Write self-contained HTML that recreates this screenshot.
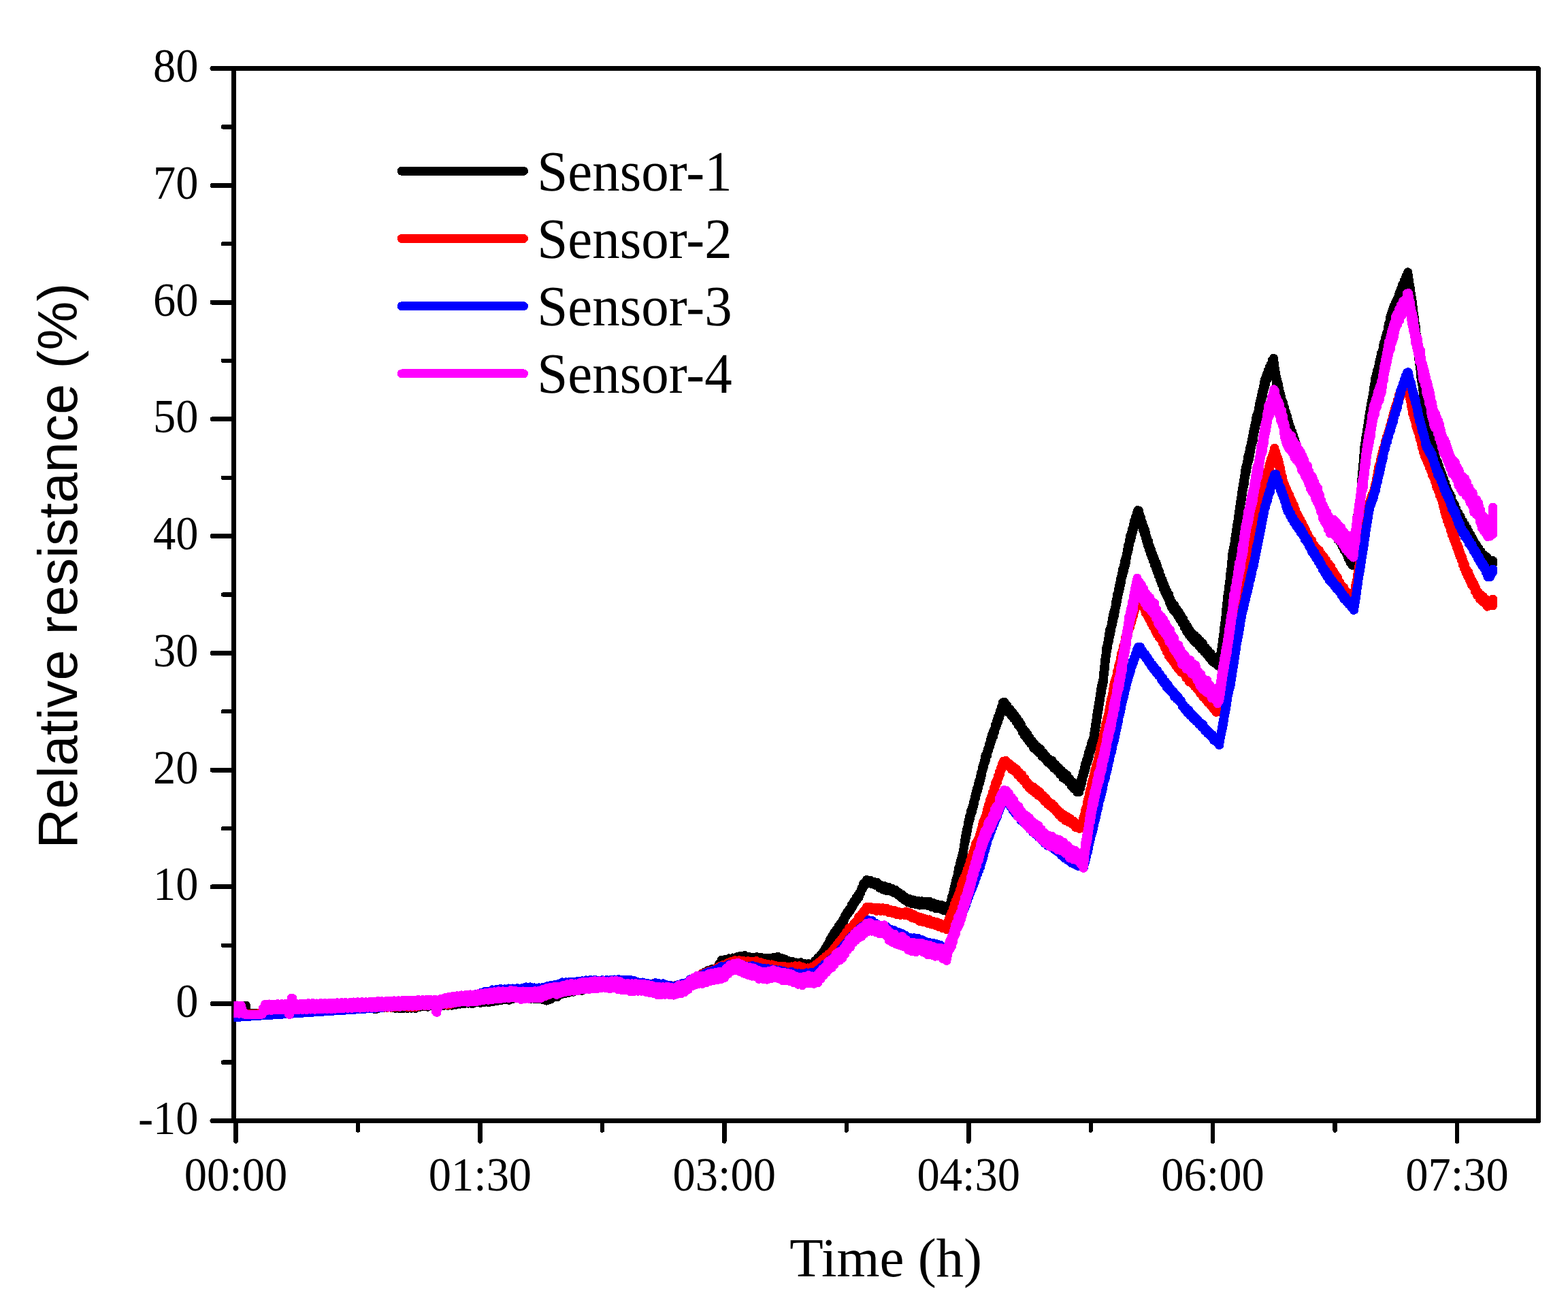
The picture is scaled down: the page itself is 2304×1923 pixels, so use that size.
<!DOCTYPE html>
<html lang="en"><head><meta charset="utf-8"><title>Relative resistance vs time</title>
<style>
html,body{margin:0;padding:0;background:#fff}
svg{display:block}
.s{font-family:"Liberation Serif","Times New Roman",serif;fill:#000}
.a{font-family:"Liberation Sans",Arial,sans-serif;fill:#000}
.c{fill:none;stroke-width:13;stroke-linecap:round;stroke-linejoin:round}
.k{stroke:#000;stroke-linecap:round;fill:none}
</style></head>
<body>
<svg width="2304" height="1923" viewBox="0 0 2304 1923" shape-rendering="crispEdges">
<rect width="2304" height="1923" fill="#fff"/>
<defs><clipPath id="cp"><rect x="343.5" y="100.5" width="1917.0" height="1546.0"/></clipPath></defs>
<rect x="343.5" y="100.5" width="1917.0" height="1546.0" fill="none" stroke="#000" stroke-width="7" stroke-linejoin="round"/>
<g class="k" stroke-width="7"><path d="M312 100.5H340"/><path d="M312 272.3H340"/><path d="M312 444.1H340"/><path d="M312 615.8H340"/><path d="M312 787.6H340"/><path d="M312 959.4H340"/><path d="M312 1131.2H340"/><path d="M312 1302.9H340"/><path d="M312 1474.7H340"/><path d="M312 1646.5H340"/></g>
<g class="k" stroke-width="6.3"><path d="M327.8 186.4H340"/><path d="M327.8 358.2H340"/><path d="M327.8 529.9H340"/><path d="M327.8 701.7H340"/><path d="M327.8 873.5H340"/><path d="M327.8 1045.3H340"/><path d="M327.8 1217.1H340"/><path d="M327.8 1388.8H340"/><path d="M327.8 1560.6H340"/></g>
<g class="k" stroke-width="6.6"><path d="M346.5 1650V1676.6"/><path d="M705.4 1650V1676.6"/><path d="M1064.3 1650V1676.6"/><path d="M1423.2 1650V1676.6"/><path d="M1782.1 1650V1676.6"/><path d="M2141.0 1650V1676.6"/></g>
<g class="k" stroke-width="6.3"><path d="M526.0 1650V1660.6"/><path d="M884.9 1650V1660.6"/><path d="M1243.8 1650V1660.6"/><path d="M1602.7 1650V1660.6"/><path d="M1961.6 1650V1660.6"/></g>
<g clip-path="url(#cp)" class="c">
<path stroke="#000" d="M336 1477L339.2 1477L342.4 1477L345.6 1477L348.8 1477L351.9 1477L355.1 1477L358.3 1477L361.5 1477L361.8 1480L362 1483L362.2 1486L362.5 1489L365.5 1488.8L368.6 1488.7L371.6 1488.5L374.6 1488.4L377.6 1488.2L380.7 1488L383.7 1488.2L386.7 1487.4L389.7 1488.1L392.8 1486.8L395.8 1488.6L398.8 1486.8L401.8 1488.4L404.9 1486.1L407.9 1489.6L410.9 1485.3L413.9 1489.3L417 1484.3L420 1489.6L423 1483.9L426 1487.3L428.9 1483.5L431.9 1488L434.9 1482.5L437.9 1486.5L440.9 1481.1L443.8 1485.2L446.8 1481.6L449.8 1486.1L452.8 1480.8L455.7 1486.3L458.7 1480.6L461.7 1484.8L464.7 1481L467.7 1485L470.6 1479.7L473.6 1484L476.6 1479.3L479.6 1485L482.6 1480.4L485.5 1484.3L488.5 1480.5L491.5 1484.6L494.5 1480.3L497.4 1484.5L500.4 1480.4L503.4 1484.6L506.4 1478.9L509.4 1483.3L512.3 1478L515.3 1483L518.3 1477.8L521.3 1481.6L524.3 1477.3L527.2 1482.3L530.2 1478.8L533.2 1482.2L536.2 1477.7L539.1 1481.5L542.1 1477.4L545.1 1481.8L548.1 1478L551.1 1483L554 1477.6L557 1481.2L560 1476.7L563 1480.6L565.9 1475.9L568.9 1480.5L571.9 1474.9L574.8 1480.3L577.8 1476L580.7 1481.4L583.7 1476.1L586.7 1481.7L589.6 1476.4L592.6 1481.7L595.6 1477.1L598.5 1481.5L601.5 1475.6L604.4 1481.3L607.4 1476.7L610.4 1481.5L613.3 1476.2L616.3 1479.8L619.3 1473.9L622.2 1478.4L625.2 1474.3L628.1 1479.2L631.1 1473.9L634.1 1477.9L637 1472.7L640 1478.1L643 1473L646 1477.3L649 1471.9L652 1477.2L655 1473.1L658 1477.5L661 1471.8L664 1477.1L667 1472.3L670 1476.2L673 1471.4L676 1475.1L679 1470.6L682 1474.7L685 1470.9L688 1474.1L691 1470.4L694 1475L697 1469.5L700 1472.9L703 1468.4L706 1473.3L709 1467.8L712 1472.3L715 1467.6L718 1472.8L721 1468.1L724 1471.9L727 1466L730 1470.6L733 1465.4L736 1469.9L739 1464.8L742 1468.8L745 1464.5L748 1469.3L751 1463.1L754 1467.5L757 1461.7L760 1466.7L763 1462.2L766 1466.2L769.2 1462L772.3 1467.2L775.5 1461.7L778.7 1467.8L781.8 1463L785 1467.6L788 1464L791 1467.9L794 1463.7L797 1468.6L800 1465.4L803 1470.1L806 1464.7L809 1468.2L811.5 1461.7L814 1465.2L816.7 1460.3L819.4 1464.5L822.1 1458.1L824.9 1461.1L827.6 1455.6L830.3 1459.8L833 1453.6L836.1 1458.4L839.3 1452.1L842.4 1457.2L845.6 1452L848.7 1455.8L851.9 1450.8L855 1455.5L857.8 1449.4L860.5 1453.3L863.2 1448.3L866 1451.8L868.8 1447L871.5 1450.2L874.2 1443.9L877 1448.5L880.1 1443.8L883.2 1447.8L886.3 1444.3L889.4 1449.3L892.5 1444.2L895.5 1449.2L898.6 1444.3L901.7 1448.4L904.8 1443.1L907.9 1447.4L911 1443.4L913.9 1448.2L916.8 1444.3L919.7 1448.7L922.6 1444.8L925.5 1450.7L928.4 1447.3L931.3 1452.6L934.2 1449L937.1 1453.3L940 1447.8L942.9 1453.4L945.9 1448.2L948.8 1452.3L951.8 1448.8L954.7 1453.9L957.6 1449.1L960.6 1452.6L963.5 1448.5L966.5 1454.3L969.4 1449.7L972.4 1454.5L975.3 1449.2L978.2 1452.8L981.2 1448.7L984.1 1453.6L987.1 1448.7L990 1454.4L993 1449.8L996 1452.6L999 1446.8L1002 1450.3L1005 1445L1008 1448.9L1010.4 1443.3L1012.9 1445.8L1015.3 1440.3L1017.7 1442.6L1020.1 1436.9L1022.6 1440.9L1025 1434.9L1027.4 1438.3L1030 1431.9L1032.6 1435.7L1035.2 1428.2L1037.7 1431.6L1040.3 1425.5L1042.9 1429L1046.3 1423.5L1049.6 1427.7L1053 1422.7L1054.8 1424.1L1056.5 1415.8L1058.2 1418.3L1060 1410.4L1062.8 1414.4L1065.7 1409.1L1068.5 1412.6L1071.3 1407.9L1074.2 1411.8L1077 1407L1079.9 1411.3L1082.8 1405.6L1085.6 1408.8L1088.5 1404.1L1091.4 1408.1L1094.3 1403.4L1097.1 1409.1L1100 1405.3L1102.9 1410.2L1105.9 1406.3L1108.9 1410.6L1111.9 1405.7L1114.9 1410.3L1118 1406.2L1121.1 1411.8L1124.1 1407.2L1127.2 1411.4L1130.3 1407.2L1133.4 1411.4L1136.5 1406.5L1139.5 1410.3L1142.6 1405.2L1145.7 1410.1L1148.3 1407.3L1150.8 1414L1153.4 1409L1156 1414.6L1158.9 1411.5L1161.9 1416.5L1164.8 1412.4L1167.8 1418.4L1170.7 1414L1173.7 1418.8L1176.6 1413.7L1179.4 1418.9L1182.2 1415.1L1185 1420.5L1187.9 1415.8L1190.8 1420.7L1193.7 1416.5L1195.7 1419.3L1197.7 1411.3L1199.6 1414.5L1201.6 1407.2L1203.6 1410L1205.5 1403.1L1207.5 1406L1209.5 1398.3L1211.1 1401.5L1212.7 1392.8L1214.3 1394.1L1215.9 1387.2L1217.6 1389.1L1219.2 1380.7L1220.8 1383.2L1222.4 1375.5L1224 1377.1L1225.6 1370.3L1227.2 1371.8L1228.8 1365.4L1230.4 1368.3L1232 1360.9L1233.5 1363.8L1235.1 1356.4L1236.7 1358.5L1238.3 1351.3L1239.9 1353.6L1241.5 1344.9L1243.1 1346.5L1244.8 1339.4L1246.4 1342.4L1248 1335.7L1249.7 1337.5L1251.3 1329L1253 1332.2L1254.6 1324.2L1256.2 1326.6L1257.9 1318.8L1259.5 1322L1260.8 1314.8L1262.1 1318.2L1263.4 1310.7L1264.6 1312.2L1265.9 1304.9L1267.2 1306.5L1268.5 1298L1270.8 1300.7L1273.2 1292.5L1275.5 1296.5L1278.3 1293L1281 1298.7L1283.8 1295.3L1286.5 1300.6L1289.3 1296.4L1292 1304.2L1294.8 1300.6L1297.6 1307.1L1300.3 1301.6L1303.1 1308.8L1305.8 1303.1L1308.6 1309.2L1311.1 1305.4L1313.7 1311.9L1316.2 1307.5L1318.7 1314.5L1321.3 1311.4L1323.8 1318.5L1326.3 1314.5L1328.9 1322.5L1331.4 1318.5L1334.3 1325.8L1337.1 1320.6L1340 1328L1342.8 1322L1345.7 1328.9L1348.6 1323.1L1351.4 1330L1354.3 1323.8L1357.3 1329.8L1360.2 1324L1363.2 1330.3L1366.2 1324.5L1369.1 1332.6L1372.1 1326.8L1375 1334.7L1378 1328.7L1380.8 1335.1L1383.5 1329.4L1386.2 1337.3L1389 1331.6L1391.8 1338.6L1394.5 1332.9L1395.2 1337.6L1395.9 1327.7L1396.7 1332.6L1397.4 1323.2L1398.1 1326.9L1398.8 1316.4L1399.5 1321L1400.2 1311.8L1401 1315.2L1401.7 1306.1L1402.4 1308.4L1403.1 1298.8L1403.8 1303.3L1404.6 1293.3L1405.3 1296.3L1406 1288.1L1406.7 1292.4L1407.4 1282.1L1408.1 1285.2L1408.9 1274.4L1409.6 1279.5L1410.3 1269.2L1410.9 1273.2L1411.5 1264L1412.1 1268.9L1412.7 1260.2L1413.3 1264.1L1413.9 1255.6L1414.5 1259.2L1415.1 1249.5L1415.7 1252.2L1416.3 1241.9L1416.9 1244.2L1417.4 1234.6L1418 1238.2L1418.6 1227.7L1419.2 1231.7L1419.8 1222.7L1420.4 1225.4L1421 1216.6L1421.6 1220.4L1422.2 1209.5L1422.8 1214.2L1423.4 1205.2L1424 1208.5L1424.8 1198.6L1425.5 1202.2L1426.3 1192.2L1427.1 1196.5L1427.9 1188L1428.6 1192.2L1429.4 1183.4L1430.2 1185.7L1431 1176.5L1431.7 1179.5L1432.5 1170.6L1433.3 1173.2L1434.1 1163.1L1434.8 1166.4L1435.6 1158.1L1436.4 1162.1L1437.2 1152.6L1437.9 1156.2L1438.7 1146.6L1439.5 1150.1L1440.3 1141.2L1441 1145.5L1441.8 1134.4L1442.6 1138L1443.4 1127.3L1444.1 1131.5L1444.9 1122.4L1445.7 1125.8L1446.5 1116.9L1447.2 1120.5L1448 1109.7L1448.9 1115.2L1449.8 1105.8L1450.7 1109.5L1451.6 1100L1452.5 1102.8L1453.4 1093.4L1454.3 1097.5L1455.3 1087.3L1456.2 1091L1457.1 1080.1L1458 1085L1458.9 1075.7L1459.8 1081.3L1460.7 1071.9L1461.6 1075.4L1462.5 1064.7L1463.4 1068.7L1464.3 1060L1465.2 1064L1466.1 1053.5L1467 1059.1L1468 1049.5L1468.9 1054.1L1469.8 1043.6L1470.7 1048.4L1471.6 1037.8L1472.5 1041.2L1473.4 1031.8L1474.3 1035.9L1476.2 1031.4L1478.1 1040.8L1480 1036.6L1481.9 1046.9L1483.8 1041.5L1485.7 1051.1L1487.6 1046.2L1489.5 1055.8L1491.4 1050.8L1492.9 1060.3L1494.5 1055.2L1496 1065.1L1497.5 1059.7L1499 1069L1500.6 1064.6L1502.1 1075.2L1503.6 1070.8L1505.1 1080.3L1506.7 1074.5L1508.2 1084.4L1509.7 1078.2L1511.2 1088.3L1512.8 1083.2L1514.3 1092.4L1516.4 1088.3L1518.4 1099L1520.5 1093L1522.6 1102.5L1524.6 1096.9L1526.7 1106.3L1528.7 1100L1530.8 1111L1532.9 1105.4L1534.9 1114.7L1537 1110.4L1539.3 1120.1L1541.6 1115L1543.9 1123.7L1546.2 1117.3L1548.5 1128.8L1550.8 1122.8L1553.1 1132.3L1555.4 1127.4L1557.7 1137.8L1560 1132L1562 1143L1564 1135.8L1566 1145.4L1568 1138.5L1570 1149L1572 1144L1574 1154.6L1576 1148.9L1578.2 1159.2L1580.5 1153.1L1582.8 1163.8L1585 1157.6L1585.8 1163.3L1586.7 1151.5L1587.5 1157.9L1588.3 1146.1L1589.1 1152.4L1590 1140.4L1590.8 1145.1L1591.6 1133.6L1592.4 1138.8L1593.3 1128.4L1594.1 1133.2L1594.9 1121.1L1595.8 1127L1596.6 1115.6L1597.4 1120.7L1598.2 1110.9L1599.1 1116.2L1599.9 1104.2L1600.7 1109.8L1601.5 1098.9L1602.4 1104.2L1603.2 1093.6L1604 1099.3L1604.8 1088.2L1605.7 1094.5L1606.5 1084L1607 1089L1607.5 1077.2L1608 1083.5L1608.5 1071L1609 1075.7L1609.5 1064.5L1610 1070L1610.5 1058.3L1611 1063L1611.5 1050.7L1612 1056.2L1612.5 1044.2L1613 1049.4L1613.5 1038.3L1614 1044.6L1614.5 1032.8L1615 1037.2L1615.5 1026.5L1616 1031.8L1616.5 1019.4L1617 1024.6L1617.5 1012.9L1618 1020L1618.5 1007.7L1619 1013.1L1619.5 1003.7L1620 1009.3L1620.5 999.2L1621 1004.5L1621.3 991.8L1621.7 998L1622 986.5L1622.3 991.4L1622.7 978.7L1623 985.6L1623.3 973.4L1623.7 978.9L1624 967.2L1624.3 972.7L1624.7 962.4L1625 966.8L1625.3 956.1L1625.7 961.1L1626 950.2L1626.6 956.8L1627.2 944.6L1627.8 950.3L1628.5 937.9L1629.1 942.8L1629.7 930.8L1630.3 935.8L1630.9 924.1L1631.5 931.4L1632.1 920.9L1632.7 925.8L1633.4 915.1L1634 919.7L1634.6 907.9L1635.2 913.6L1635.8 902.6L1636.4 907.6L1637 897.5L1637.6 903.8L1638.3 893.2L1638.9 897.8L1639.5 884.8L1640.1 890.6L1640.7 879.2L1641.3 884.2L1641.9 872L1642.5 877.6L1643.2 866.1L1643.8 871.8L1644.4 861.2L1645 867.6L1645.7 855.1L1646.3 860.4L1647 848.5L1647.7 855L1648.4 843.1L1649 847.9L1649.7 835.4L1650.4 842L1651.1 831.5L1651.7 837.9L1652.4 825L1653.1 831.8L1653.8 820.7L1654.4 826.3L1655.1 814.5L1655.8 819.1L1656.5 807L1657.1 812.2L1657.8 800.5L1658.5 805.9L1659.2 793.9L1659.8 799.4L1660.5 787L1661.3 794.1L1662.1 783.4L1662.9 789L1663.7 776.5L1664.5 781.8L1665.3 770.7L1666.1 776.5L1666.9 764.3L1667.7 771.7L1668.5 759.5L1669.3 765.3L1670.1 753.8L1670.9 760.3L1671.7 749.6L1672.5 756.4L1673.4 750L1674.3 761.6L1675.1 756.3L1676 768.6L1676.9 761.7L1677.8 773L1678.7 768.3L1679.5 778.9L1680.4 773.5L1681.3 783.9L1682.2 777.7L1683.1 789.6L1683.9 783.4L1684.8 795.9L1685.7 790.7L1686.7 802.3L1687.6 795.1L1688.6 807.9L1689.5 802.3L1690.5 813.6L1691.4 807.1L1692.4 818.7L1693.3 813.1L1694.3 824.2L1695.3 817.9L1696.2 829.6L1697.2 822.8L1698.1 834L1699.1 826.9L1700 840L1701 832.8L1702.2 845.9L1703.4 839.3L1704.5 852.1L1705.7 846.4L1706.9 858.5L1708.1 851.4L1709.2 864.6L1710.4 857.9L1711.6 870.2L1712.8 863.9L1713.9 874.8L1715.1 868.8L1716.3 879.3L1717.5 872.9L1718.6 886.1L1719.8 880.1L1721 892L1722.6 885.7L1724.2 896.6L1725.8 888.9L1727.4 900.1L1729.1 894.7L1730.7 905.5L1732.3 899.1L1733.9 910.5L1735.5 904.3L1737.1 915.7L1738.7 909.1L1740.3 922.2L1741.9 915.7L1743.6 927.9L1745.2 920.4L1746.8 932.8L1748.4 926.1L1750 936.7L1751.9 930.2L1753.9 941.6L1755.8 933.8L1757.7 944.9L1759.6 937.1L1761.6 949.5L1763.5 941.6L1765.4 953.7L1767.4 945.2L1769.3 957.3L1771.2 951.2L1773.1 961.9L1775.1 955.1L1777 966.9L1779.1 959.7L1781.3 971.8L1783.4 964.8L1785.6 974.6L1787.7 966.8L1789.9 978.2L1792 970.2L1792.4 975.7L1792.8 965.3L1793.2 972.1L1793.6 959.9L1794 966.8L1794.3 954.6L1794.7 962.3L1795.1 950.9L1795.5 957.4L1795.9 946L1796.3 951.8L1796.7 938.8L1797.1 945.7L1797.5 932L1797.9 938L1798.3 926.6L1798.7 931.7L1799 920L1799.4 926.9L1799.8 914.7L1800.2 919.6L1800.6 906.9L1801 912.3L1801.3 899.7L1801.6 906.9L1802 893.1L1802.3 900.1L1802.6 886.2L1802.9 893.8L1803.3 880.6L1803.6 887.8L1803.9 875L1804.2 883.1L1804.5 870.1L1804.9 877.8L1805.2 865.9L1805.5 872.5L1805.8 860L1806.2 867.9L1806.5 854.9L1806.8 860.7L1807.1 848.3L1807.5 855.3L1807.8 842.5L1808.1 849.2L1808.4 836.8L1808.7 843.3L1809.1 830.8L1809.4 838.2L1809.7 825.1L1810 832.4L1810.4 819.9L1810.7 826.7L1811 812.2L1811.5 818.9L1812 807L1812.5 814.9L1813 802.3L1813.5 809.4L1814 797.2L1814.5 803.1L1815 789.5L1815.5 796.5L1816 782.9L1816.5 788.4L1817 776.2L1817.4 782.4L1817.9 770.1L1818.3 777.3L1818.8 765.2L1819.2 770.8L1819.7 757.2L1820.1 765.1L1820.6 751.3L1821 757.9L1821.4 745L1821.9 751.4L1822.3 737.7L1822.8 745.9L1823.2 732.3L1823.7 738.8L1824.1 726.4L1824.6 733.4L1825 721.1L1825.4 727.1L1825.9 715.3L1826.3 720.9L1826.8 709.8L1827.2 716L1827.7 704.7L1828.1 712L1828.6 698.8L1829 704.6L1829.6 691.5L1830.2 698.3L1830.8 685.4L1831.5 692.4L1832.1 679L1832.7 685.8L1833.3 672.2L1833.9 680L1834.5 668.7L1835.1 676.1L1835.7 663.4L1836.4 669.5L1837 656.4L1837.6 663.2L1838.2 651.1L1838.8 657.2L1839.4 646L1840 652.2L1840.6 640L1841.3 647.2L1841.9 632.9L1842.5 639L1843.1 626L1843.7 633.5L1844.3 621.6L1844.9 627.6L1845.5 614.9L1846.2 621.5L1846.8 609.3L1847.4 617.9L1848 605.9L1848.7 613.4L1849.4 600.3L1850 606.1L1850.7 592.9L1851.4 599.6L1852.1 585.9L1852.8 591.9L1853.5 580.5L1854.1 586.5L1854.8 574L1855.5 581L1856.2 568.6L1856.9 574.9L1857.5 561L1858.2 570L1858.9 556.1L1859.9 563.5L1861 550L1862 557.3L1863.1 544.1L1864.1 550.5L1865.2 539L1866.2 546.9L1867.2 535L1868.3 541.3L1869.3 529.3L1870.4 537.2L1871.4 526.2L1871.8 539.9L1872.2 532.4L1872.7 546.5L1873.1 539.1L1873.5 550.7L1873.9 543.9L1874.3 556L1874.7 548.2L1875.2 560.8L1875.6 553.8L1876 565.9L1876.8 558.3L1877.5 570.7L1878.2 563.3L1879 577.2L1879.8 571.2L1880.5 584.5L1881.2 577.1L1882 590.3L1882.8 583.1L1883.5 595.7L1884.2 588.7L1885 600.6L1885.9 592.5L1886.8 605.9L1887.7 599L1888.6 611.5L1889.5 605.2L1890.5 618.9L1891.4 610.9L1892.3 624.9L1893.2 618.3L1894.1 631.5L1895 624.3L1896 637.4L1897 629.8L1898 643L1899 634.9L1900 646.8L1901 640.9L1902 654.7L1903 646.9L1904 659.3L1905 652.9L1906 665.5L1907.1 658.6L1908.1 670.7L1909.2 662.1L1910.2 675.8L1911.3 669.1L1912.4 683L1913.4 676L1914.5 688.9L1915.6 681.6L1916.6 695.3L1917.7 688.7L1918.8 701.7L1919.8 694L1920.9 705.3L1921.9 698.9L1923 710.5L1924.2 703.1L1925.4 714.6L1926.6 706.6L1927.9 720.4L1929.1 712L1930.3 725.2L1931.5 716.4L1932.7 729.3L1933.9 722.3L1935.1 736L1936.4 728.1L1937.6 741.1L1938.8 732.3L1940 744.8L1941.4 736.9L1942.7 748.9L1944.1 742.1L1945.5 755L1946.8 748.6L1948.2 761.6L1949.5 755.4L1950.9 768.2L1952.3 759.8L1953.6 772.7L1955 763.8L1956.5 776.8L1958.1 768.7L1959.6 782.2L1961.2 775.2L1962.7 787.5L1964.3 780.9L1965.8 792.9L1967.4 783.4L1968.9 796.7L1970.5 788.8L1972 802.7L1973.5 795.9L1975 808.7L1976.5 800.2L1978 813L1979.5 806.1L1981 820.3L1982.5 812.5L1984 826.3L1985.5 817L1987 830.3L1987.4 816.7L1987.7 823.3L1988.1 809.8L1988.5 815.9L1988.9 802.3L1989.2 809.1L1989.6 797.3L1990 805.6L1990.3 792.2L1990.7 800.1L1991.1 786.6L1991.4 794.7L1991.8 779.8L1992.2 787.4L1992.6 773.1L1992.9 780.5L1993.3 768.2L1993.7 775.6L1994 761.3L1994.4 768.5L1994.8 755.8L1995.2 763.6L1995.5 751L1995.9 759.1L1996.3 747L1996.6 753.8L1997 739.2L1997.4 747.9L1997.7 734.8L1998.1 741.8L1998.5 728.8L1998.9 735.6L1999.2 722.4L1999.6 729.8L1999.9 716.6L2000.1 723.4L2000.4 710.9L2000.6 716.9L2000.9 703L2001.1 712L2001.4 698.8L2001.7 707.4L2001.9 692L2002.2 699.6L2002.4 686.1L2002.7 694.1L2002.9 680.4L2003.2 686.4L2003.5 673.8L2003.7 679.7L2004 667.4L2004.2 675L2004.5 661.8L2004.7 667.7L2005 655L2005.5 663.5L2005.9 649.8L2006.4 656L2006.9 641.8L2007.4 649.5L2007.8 636.9L2008.3 644L2008.8 629.9L2009.2 636.7L2009.7 624.5L2010.2 631.5L2010.6 617.6L2011.1 625.1L2011.6 611.1L2012.1 618.2L2012.5 605.8L2013 614.5L2013.5 599.9L2013.9 607L2014.4 593.5L2014.9 601.3L2015.4 589L2015.8 596.4L2016.3 583.9L2016.8 591.5L2017.2 577.8L2017.7 585.7L2018.2 571.8L2018.6 578.4L2019.1 565.3L2019.6 573.4L2020.1 559.3L2020.5 568.9L2021 554.3L2021.7 561.5L2022.4 549.5L2023.1 556.1L2023.8 543.5L2024.5 552.3L2025.2 538.8L2025.9 545.8L2026.7 531.2L2027.4 537.9L2028.1 524.9L2028.8 531.5L2029.5 518.5L2030.2 527.2L2030.9 515.4L2031.6 521.5L2032.3 507.9L2033 517L2033.7 502.8L2034.4 510.4L2035.2 497.6L2035.9 505.6L2036.6 493L2037.3 500.1L2038 487.9L2038.7 495.5L2039.4 481.1L2040.2 487.8L2040.9 474L2041.6 481L2042.3 467.4L2043 475.1L2044 461.1L2045 467.6L2046 455.3L2047 463.3L2048 449.7L2049 458.7L2050 445.1L2051 452.7L2052 440.9L2053 449.8L2054 437.1L2055 444.6L2056 430.2L2057 437.9L2058 425L2059 433.2L2060.4 418.4L2061.8 425.9L2063.2 411.9L2064.6 420L2066 405.3L2067.4 412.8L2068.8 399.8L2069.3 412.7L2069.9 405.3L2070.4 420.5L2070.9 413.4L2071.5 427.5L2072 420.7L2072.4 434.1L2072.8 426L2073.2 440L2073.7 431.7L2074.1 445L2074.5 437.1L2074.9 449.6L2075.3 442.8L2075.8 458.2L2076.2 450.1L2076.6 464.6L2077 457.3L2077.4 471L2077.8 462L2078.1 474.6L2078.5 466.2L2078.9 480.8L2079.2 473.7L2079.6 486.4L2080 477.2L2080.4 492.2L2080.8 483.7L2081.1 498.8L2081.5 491.3L2081.9 504.8L2082.2 498.1L2082.6 512.8L2083 504.3L2083.4 518.4L2083.8 510.2L2084.1 522.1L2084.5 515.6L2084.9 529.6L2085.2 522L2085.6 534.9L2086 526.3L2086.4 541.1L2086.8 532.1L2087.1 547.1L2087.5 540.5L2087.9 555.4L2088.2 546.8L2088.6 560.1L2089 550.6L2089.4 564.7L2089.8 557.8L2090.1 570.4L2090.5 562.1L2090.9 574.3L2091.2 566.8L2091.6 582.1L2092 574.2L2092.5 587.2L2093.1 581.1L2093.6 594.4L2094.1 587L2094.6 601.4L2095.2 594.3L2095.7 608.1L2096.2 599.9L2096.8 613.4L2097.3 604.7L2097.8 618L2098.4 610.7L2098.9 625L2099.4 617.4L2099.9 630.3L2100.5 622.2L2101 636.8L2101.5 628.2L2102.1 642.1L2102.6 633.3L2103.1 647.4L2103.6 638.9L2104.2 653.4L2104.7 644.1L2105.2 656.8L2105.8 649.9L2106.3 662.3L2106.8 655.1L2107.4 670.3L2107.9 662.2L2108.4 676L2108.9 667.1L2109.5 680.5L2110 672.8L2111.1 686.7L2112.3 677.9L2113.4 692.6L2114.5 684.6L2115.7 698.2L2116.8 691L2117.9 704.5L2119.1 696.4L2120.2 711.2L2121.3 702.6L2122.5 718.2L2123.6 709.4L2124.7 723.6L2125.9 715.8L2127 730.3L2128.2 721.5L2129.3 734.7L2130.5 726L2131.7 739.9L2132.8 730.5L2134 744.8L2135.2 737.6L2136.3 751.2L2137.5 741.6L2138.7 754.8L2139.8 747.5L2141 761.5L2142.7 753.5L2144.4 768L2146.1 758.7L2147.9 772.7L2149.6 765.8L2151.3 779.5L2153 771.1L2154.3 784.3L2155.6 775.8L2156.9 788.4L2158.2 780.8L2159.5 794.1L2160.8 785.5L2162.1 799L2163.4 790.2L2164.7 804.8L2166 795.3L2167.7 807.8L2169.4 800L2171.1 814.6L2172.9 805.7L2174.6 818.9L2176.3 810.4L2178 823.1L2180.2 815L2182.5 827.5L2184.8 818.2L2187 831.2L2190.2 825.3L2193.5 829L2193.5 826.2L2193.5 823.5"/>
<path stroke="#f00" d="M336 1490L339 1489.9L342.1 1489.9L345.1 1489.8L348.2 1489.7L351.2 1489.6L354.3 1489.6L357.3 1489.5L360.4 1489.4L363.4 1489.4L366.5 1489.3L369.5 1489.2L372.6 1489.1L375.6 1489.1L378.7 1489L381.7 1488.9L384.8 1488.9L387.8 1488.8L390.9 1488.7L393.9 1488.6L397 1488.6L400 1488.5L403 1488.3L406 1488.1L409.1 1488L412.1 1487.8L415.1 1487.6L418.1 1487.4L421.1 1487.2L424.2 1487.1L427.2 1486.9L430.2 1486.7L433.2 1486.5L436.2 1486.3L439.2 1486.2L442.3 1486L445.3 1485.8L448.3 1485.6L451.3 1485.5L454.3 1485.3L457.4 1485.1L460.4 1484.9L463.4 1484.7L466.4 1484.6L469.4 1484.4L472.5 1484.2L475.5 1484L478.5 1483.8L481.5 1483.7L484.5 1483.5L487.5 1483.3L490.6 1483.1L493.6 1482.9L496.6 1482.8L499.6 1482.6L502.6 1482.4L505.7 1482.2L508.7 1482L511.7 1481.9L514.7 1481.7L517.7 1481.5L520.8 1481.4L523.8 1481L526.8 1481.1L529.8 1480.4L532.8 1480.9L535.8 1479.9L538.9 1480.6L541.9 1479.2L544.9 1480.4L547.9 1479L550.9 1480.2L554 1478.3L557 1480L560 1478.1L563 1480.4L565.9 1478L568.9 1480.4L571.9 1477L574.8 1480.3L577.8 1476.7L580.7 1479.5L583.7 1476.2L586.7 1479.7L589.6 1475.5L592.6 1478.8L595.6 1475.1L598.5 1479.8L601.5 1475.9L604.4 1479.9L607.4 1475.3L610.4 1479.7L613.3 1474.2L616.3 1478.1L619.3 1473.2L622.2 1477.1L625.2 1473L628.1 1477.5L631.1 1471.5L634.1 1476.6L637 1472.5L640 1475.8L642.9 1470.9L645.8 1476.3L648.7 1471.5L651.6 1475.6L654.5 1471.3L657.5 1476.5L660.4 1471.6L663.3 1475.1L666.2 1469.1L669.1 1473L672 1468.1L674.9 1472.3L677.9 1466.9L680.8 1471.2L683.7 1467.3L686.7 1471.8L689.6 1467.8L692.5 1471.3L695.5 1466.4L698.4 1469.8L701.3 1464.9L704.3 1468.6L707.2 1464.6L710.1 1469.1L713.1 1464.4L716 1468.3L718.9 1464.2L721.8 1468.4L724.6 1462.3L727.5 1467.4L730.4 1462.1L733.2 1465.2L736.1 1459.8L739 1464.7L741.9 1459.8L744.8 1464.2L747.6 1460.3L750.5 1463.9L753.4 1459.2L756.2 1463.1L759.1 1458.3L762 1462.3L764.9 1457.6L767.8 1462L770.8 1458L773.7 1462.6L776.6 1458L779.5 1462.1L782.5 1457.1L785.4 1461.8L788.3 1457.4L791.2 1461.6L794.2 1457.9L797.1 1462.5L800 1458.6L802.9 1462.8L805.7 1456.8L808.6 1460.4L811.5 1454.7L814.3 1458.6L817.2 1452.4L820.1 1456.6L822.9 1450.8L825.8 1454.7L828.7 1448.9L831.5 1452.7L834.4 1447.6L837.3 1452L840.1 1446.2L843 1449.5L846.1 1444L849.2 1449L852.3 1444.4L855.4 1448.8L858.5 1443.2L861.5 1447.4L864.6 1442.5L867.7 1446.4L870.8 1442.4L873.9 1447.7L877 1442.8L880.1 1448.5L883.2 1443.6L886.3 1447.3L889.4 1443.6L892.5 1447.8L895.5 1443.9L898.6 1448L901.7 1442.4L904.8 1447.1L907.9 1442.6L911 1446.2L913.9 1441.6L916.8 1447.5L919.7 1442.8L922.6 1448.3L925.5 1443.2L928.4 1447.5L931.3 1443.4L934.2 1449.1L937.1 1445.6L940 1449.6L942.8 1445.5L945.7 1450.7L948.5 1445L951.3 1449.1L954.2 1445.1L957 1448.9L960.1 1444.4L963.2 1449.3L966.3 1445.8L969.4 1451.6L972.5 1447.1L975.5 1451.9L978.6 1447.1L981.7 1451.7L984.8 1447.3L987.9 1452L991 1447.9L993.9 1452.7L996.9 1446.9L999.8 1450.4L1002.7 1446.1L1005.7 1448.8L1008.6 1443.9L1011.3 1446.6L1014 1439.1L1016.6 1442.8L1019.3 1436.4L1022 1439.3L1024.8 1433.9L1027.6 1436.8L1030.4 1430.7L1033.2 1434.2L1036 1428.7L1038.7 1431.7L1041.3 1426.4L1044 1430.6L1046.7 1425.2L1049.3 1428.3L1052 1422.4L1054.7 1425.9L1057.3 1419.4L1060 1423.1L1062.8 1417.1L1065.7 1420.9L1068.5 1414.7L1071.3 1419.1L1074.2 1412.7L1077 1415.5L1080.1 1410.5L1083.3 1416.3L1086.4 1410.7L1089.5 1416.6L1092.6 1411.5L1095.8 1416.8L1098.9 1411.8L1102 1417L1105.1 1412.3L1108.3 1416.4L1111.4 1411.6L1114.3 1417.3L1117.1 1413.1L1120 1418.5L1122.9 1415.3L1125.7 1420.7L1128.6 1416.5L1131.5 1421.6L1134.3 1416.9L1137.2 1422.2L1140 1418.5L1142.9 1424.3L1145.7 1419.7L1148.6 1423.2L1151.4 1419.1L1154.3 1424.3L1157.2 1420.3L1160 1424.8L1162.9 1419.9L1165.7 1423.6L1168.6 1418.8L1171.4 1423.6L1174.3 1418.8L1177.1 1424.5L1180 1420.6L1183.5 1425.9L1186.9 1421.9L1190.3 1426L1193.7 1420L1196.1 1422.9L1198.5 1416.8L1200.9 1421L1203.3 1413.6L1205.7 1416.6L1208.1 1409.3L1210.5 1411.6L1212.9 1405.1L1215.3 1408.2L1217.7 1401.2L1220.1 1403.9L1222.5 1397.2L1224.2 1399.3L1226 1392.5L1227.8 1396.1L1229.5 1388.1L1231.2 1390.8L1233 1383.8L1234.8 1386.1L1236.5 1379.6L1238.2 1381.1L1240 1374.1L1241.8 1376L1243.7 1369.3L1245.5 1371.3L1247.3 1363.6L1249.2 1367.3L1251 1361.4L1252.8 1364.3L1254.7 1357.1L1256.5 1359.4L1258.3 1352.9L1260.1 1354.9L1261.9 1346.6L1263.8 1349.7L1265.6 1342.6L1267.4 1344.7L1269.2 1338.2L1271 1339.9L1273.5 1332.5L1276 1335.6L1279 1332L1281.9 1336.8L1284.9 1333.4L1287.9 1338.3L1290.8 1333.3L1293.8 1338.4L1296.7 1333.6L1299.7 1338.6L1302.7 1334.2L1305.6 1340.5L1308.6 1336.7L1311.4 1341.6L1314.3 1337.3L1317.2 1343.4L1320 1339.2L1322.8 1344.4L1325.7 1340.2L1328.6 1344.4L1331.4 1339L1334.3 1345.2L1337.1 1340.9L1340 1348.2L1342.8 1343.7L1345.7 1350.1L1348.6 1346.5L1351.4 1353.7L1354.3 1347.9L1357.1 1354.7L1360 1349.9L1362.8 1356.3L1365.7 1350.9L1368.5 1358L1371.3 1353.5L1374.2 1359.3L1377 1354.8L1379.8 1361.7L1382.6 1356.8L1385.3 1363.9L1388.1 1359.1L1390.9 1365.6L1391.9 1357.8L1393 1359.5L1394 1350.7L1395.1 1352.5L1396.1 1344.9L1397.2 1347.4L1398.2 1339.9L1399.3 1341.8L1400.3 1334.6L1401.3 1336.6L1402.4 1328L1403.4 1330.7L1404.5 1322.7L1405.5 1326.2L1406.6 1318.4L1407.6 1321.5L1408.7 1312.3L1409.7 1313.8L1410.7 1306.4L1411.8 1308.2L1412.8 1298.6L1413.9 1302.5L1414.9 1292.9L1416 1296.5L1417 1288.7L1418.1 1292.6L1419.1 1284.4L1420.2 1285.9L1421.2 1277.3L1422.2 1279.3L1423.3 1271.8L1424.3 1273.3L1425.4 1264.1L1426.4 1267.3L1427.5 1257.6L1428.5 1260.2L1429.6 1252.1L1430.6 1254.6L1431.6 1245.5L1432.7 1248L1433.7 1239.1L1434.8 1243.6L1435.8 1236L1436.9 1239.2L1437.9 1231.1L1439 1233.7L1440 1224.5L1440.8 1226.4L1441.6 1219L1442.4 1221.2L1443.2 1212.6L1443.9 1214.4L1444.7 1206.8L1445.5 1211L1446.3 1203.6L1447.1 1206.8L1447.9 1199.1L1448.7 1202.4L1449.4 1194.2L1450.2 1196.5L1451 1187.9L1451.8 1190.3L1452.6 1181.9L1453.6 1183.7L1454.6 1175.2L1455.6 1178.3L1456.6 1169.8L1457.6 1173.6L1458.5 1163.6L1459.5 1165.8L1460.5 1157.5L1461.5 1159.7L1462.5 1150.3L1463.5 1153.7L1464.5 1146L1465.5 1149L1466.5 1139.7L1467.5 1142.4L1468.5 1133.7L1469.5 1137.4L1470.4 1128.5L1471.4 1130.9L1472.4 1122.3L1473.4 1125.7L1474.4 1118.2L1475.4 1120.4L1478.1 1117.4L1480.7 1125.4L1483.4 1121.8L1486.1 1130.3L1488.7 1125.9L1491.4 1133.5L1493.5 1129.5L1495.6 1138.6L1497.6 1134.5L1499.7 1143.3L1501.8 1137.9L1503.9 1147.5L1506 1143.6L1508.1 1153.1L1510.1 1149.8L1512.2 1157.7L1514.3 1153.7L1516.6 1161.6L1518.8 1156L1521.1 1165.1L1523.4 1159.7L1525.7 1168.8L1527.9 1163.3L1530.2 1172L1532.5 1168.4L1534.7 1177.2L1537 1172.3L1539.1 1181.3L1541.2 1177.4L1543.3 1184.5L1545.4 1180.2L1547.5 1188L1549.5 1184L1551.6 1192.2L1553.7 1188.9L1555.8 1197.3L1557.9 1192.9L1560 1201.3L1562.5 1196.3L1565.1 1205.4L1567.6 1199.4L1570.2 1207.9L1572.7 1202.6L1575.3 1210.4L1577.8 1206.3L1580.4 1215.6L1582.9 1209.8L1585.8 1217.3L1588.6 1212.5L1589.3 1216.9L1590.1 1208.4L1590.8 1212.1L1591.5 1201.9L1592.3 1206.5L1593 1197.2L1593.7 1200.4L1594.4 1191.1L1595.2 1195.8L1595.9 1186.1L1596.6 1189.6L1597.4 1178.9L1598.1 1182.8L1598.8 1173L1599.6 1175.6L1600.3 1165.8L1601 1169.7L1601.7 1159.8L1602.5 1163.3L1603.2 1153.6L1603.9 1157.5L1604.7 1147.2L1605.4 1151.6L1606.1 1142L1606.9 1146.9L1607.6 1136.5L1608.3 1140.2L1609 1130.4L1609.8 1134.1L1610.5 1124.6L1611.2 1129.6L1612 1119.9L1612.7 1123.9L1613.4 1114.3L1614.2 1117.2L1614.9 1107.5L1615.6 1110.6L1616.3 1100.2L1617.1 1103.9L1617.8 1093.9L1618.5 1098.8L1619.3 1088.9L1620 1094.2L1620.6 1083.9L1621.2 1088.8L1621.8 1077.5L1622.5 1080.7L1623.1 1071.1L1623.7 1074.6L1624.3 1065L1624.9 1070.4L1625.5 1061.4L1626.1 1064.6L1626.7 1056.1L1627.4 1060L1628 1051.5L1628.6 1054.8L1629.2 1044.3L1629.8 1047L1630.4 1038.4L1631 1041.2L1631.6 1031.5L1632.3 1036.9L1632.9 1026.2L1633.5 1030.5L1634.1 1020.5L1634.7 1023.3L1635.3 1013.3L1635.9 1016.7L1636.5 1006.1L1637.2 1010.8L1637.8 1001.3L1638.4 1006.2L1639 997.2L1639.7 1002L1640.5 992.8L1641.2 996.3L1641.9 985.2L1642.6 987.9L1643.4 978.7L1644.1 983L1644.8 974.1L1645.5 977L1646.3 966.7L1647 971.3L1647.7 959.7L1648.5 964.9L1649.2 956.4L1649.9 959.4L1650.6 949L1651.4 953.1L1652.1 944.1L1652.8 947L1653.5 936.5L1654.3 941.8L1655 932.3L1655.8 936.9L1656.6 927.1L1657.4 932.3L1658.2 920.9L1659 925.8L1659.9 915.7L1660.7 920.9L1661.5 911.6L1662.3 915.3L1663.1 905L1663.9 909.3L1664.7 898.8L1665.5 904.2L1666.3 893.9L1667.1 898.4L1668 886.6L1668.8 890.4L1669.6 880.9L1670.4 885.7L1671.2 874.9L1672 877.8L1673.4 872.3L1674.8 881.6L1676.2 877.7L1677.6 887.3L1678.9 882.8L1680.3 893L1681.7 888.9L1683.1 900.3L1684.5 895.2L1685.9 904.9L1687.3 901L1688.7 910L1690.1 904.6L1691.4 915.6L1692.8 911.7L1694.2 920.9L1695.6 914.9L1697 926L1698.4 922.5L1699.9 931.9L1701.3 926.4L1702.8 936.1L1704.2 930.7L1705.6 939.5L1707.1 934.1L1708.5 945.5L1709.9 940.1L1711.4 951.4L1712.8 947.5L1714.2 958L1715.7 952.7L1717.1 963.2L1718.6 958L1720 967.3L1721.9 963.1L1723.8 972.5L1725.7 967.7L1727.6 978.5L1729.5 973.2L1731.5 983.3L1733.4 977.9L1735.3 987.4L1737.2 981.2L1739.1 989.6L1741 985.5L1742.9 995.9L1745 991.1L1747 1001.7L1749.1 995.4L1751.2 1004L1753.3 999.7L1755.3 1008.4L1757.4 1002.5L1759.5 1013.2L1761.6 1008.1L1763.6 1018.8L1765.7 1014.6L1767.6 1024.3L1769.5 1018.6L1771.4 1027.8L1773.3 1022.9L1775.2 1032.6L1777.2 1026.7L1779.1 1036.5L1781 1030.4L1782.9 1041.4L1784.8 1035.7L1786.7 1046.4L1788.6 1041.2L1789.2 1045.9L1789.8 1035.3L1790.4 1038.5L1791 1026.8L1791.6 1032.3L1792.2 1022.3L1792.8 1026.3L1793.4 1015.7L1794 1019.1L1794.6 1008.2L1795.2 1013.6L1795.8 1002L1796.4 1005.8L1797 995.7L1797.6 999.8L1798.2 990.4L1798.8 995.4L1799.4 985L1800 989.9L1800.6 980.6L1801.2 984.2L1801.8 973.9L1802.4 979.2L1803 967.5L1803.6 972.5L1804.2 962.4L1804.8 966.7L1805.4 956.8L1806 961.1L1806.6 949.8L1807.2 954.2L1807.8 941.9L1808.4 947.5L1809 937L1809.6 941.9L1810.2 929.9L1810.8 935L1811.4 924.6L1812 928.2L1812.7 916.8L1813.3 920.9L1814 909.8L1814.7 914.9L1815.3 904.7L1816 910.5L1816.7 900.9L1817.3 906.8L1818 896.2L1818.7 901.5L1819.3 891.6L1820 895.9L1820.7 885.1L1821.3 889L1822 878.5L1822.7 881.9L1823.3 871L1824 876.2L1824.7 865.4L1825.3 869L1826 859.5L1826.5 865.3L1827.1 853.4L1827.6 858.9L1828.1 848.5L1828.7 852L1829.2 841.6L1829.8 847.4L1830.3 837.2L1830.8 841.7L1831.4 830.2L1831.9 835.3L1832.4 826L1833 830.1L1833.5 818.1L1834 821.9L1834.6 812.3L1835.1 816.3L1835.6 804.5L1836.2 809.4L1836.7 799.6L1837.2 804L1837.8 793.1L1838.3 799L1838.9 788.1L1839.4 793.1L1839.9 781.7L1840.5 785.5L1841 774.6L1841.7 778.8L1842.5 769.8L1843.2 775.2L1844 763.2L1844.7 769L1845.5 759.1L1846.2 763.4L1846.9 751.3L1847.7 757.3L1848.4 747L1849.2 751.2L1849.9 741L1850.7 744.9L1851.4 733.8L1852.1 737.9L1852.9 728L1853.6 733.2L1854.4 721.8L1855.1 725.5L1855.9 715.5L1856.6 720.3L1857.4 708.5L1858.3 714.1L1859.1 703.8L1860 708.6L1860.8 698.6L1861.7 703.2L1862.5 691.9L1863.3 697L1864.2 685.7L1865 691.2L1865.9 679.5L1866.7 684.2L1867.5 674.4L1868.4 679.3L1869.2 670.2L1870.1 674.4L1870.9 665L1871.8 670.1L1872.6 658.4L1873.5 668.4L1874.4 663.7L1875.3 674.2L1876.2 668.8L1877.1 679L1878 673.3L1878.8 684.8L1879.6 680.3L1880.5 690.9L1881.3 686.4L1882.1 697.6L1882.9 694.2L1883.7 704.6L1884.5 700.4L1885.4 712L1886.2 707.8L1887 718.8L1888.1 712.7L1889.2 722.7L1890.3 718.1L1891.4 729.2L1892.5 723.2L1893.5 733L1894.6 727.3L1895.7 736.5L1896.8 732.7L1897.9 742.5L1899 737.1L1900.2 746.4L1901.4 742.6L1902.6 754.6L1903.8 749.1L1905 759.2L1906.2 754.8L1907.4 766.2L1908.6 759.9L1909.8 768.8L1911 763.3L1912.3 773.1L1913.6 768.4L1914.8 778L1916.1 773.4L1917.4 783.4L1918.7 778.8L1919.9 789.6L1921.2 783.7L1922.5 794.2L1924.3 789.6L1926 800.3L1927.8 794L1929.6 805L1931.3 801.1L1933.1 810.9L1934.8 805.2L1936.6 814.5L1938.4 808.4L1940.1 818L1941.9 813.8L1943.7 823.3L1945.4 818L1947.2 829.5L1948.9 823.1L1950.7 832.9L1952.5 828.3L1954.2 838.6L1956 832.9L1957.6 844.3L1959.2 838.8L1960.8 849.8L1962.4 843.6L1964 852.9L1965.6 848.5L1967.2 859.7L1968.8 855.1L1970.4 865.1L1972 860.3L1973.5 869.6L1975 863.2L1976.5 873.1L1978 868.4L1979.5 879.5L1981 873.2L1982.5 883.7L1984 879.4L1985.5 890.5L1987 884.2L1987.5 889.4L1988.1 879.3L1988.7 884.3L1989.2 874.3L1989.8 880L1990.3 868.2L1990.8 873.1L1991.4 861.2L1992 866.9L1992.5 856.7L1993 862.5L1993.6 851.6L1994.2 854.9L1994.7 843.8L1995.2 848.5L1995.8 837.5L1996.3 842.5L1996.9 831L1997.5 836.8L1998 825.9L1998.4 830.7L1998.9 820.8L1999.3 826.7L1999.8 814.2L2000.2 820.2L2000.7 808.6L2001.1 812.3L2001.6 802.4L2002 807.5L2002.5 797.4L2002.9 800.8L2003.4 790.7L2003.8 797.1L2004.3 786.2L2004.7 791.3L2005.2 779.9L2005.6 785.3L2006.1 775L2006.5 780L2007 768.9L2007.4 772.6L2007.9 761.4L2008.3 765.4L2008.8 754.6L2009.2 760.2L2009.7 750.4L2010.1 755.1L2010.6 745.2L2011 749.5L2012 738.4L2013 742.7L2014 732.8L2015 737.9L2016 726.5L2017 733.2L2018 722L2019 727.4L2019.6 716.6L2020.3 720.7L2020.9 710.4L2021.5 715L2022.2 704.3L2022.8 709.6L2023.5 697.9L2024.1 702.5L2024.7 691.2L2025.4 697.1L2026 684.8L2026.6 691.4L2027.3 681.5L2027.9 686.2L2028.5 675.1L2029.2 680.1L2029.8 670.4L2030.5 676.3L2031.1 664L2031.7 670.3L2032.4 659.1L2033 664.7L2033.9 655.5L2034.8 659.5L2035.6 648.3L2036.5 653.5L2037.4 641.7L2038.3 647.8L2039.2 637L2040.1 642.4L2040.9 631.9L2041.8 636.2L2042.7 624.9L2043.6 629.5L2044.5 617.9L2045.4 624.1L2046.2 612.2L2047.1 616.5L2048 605L2048.9 610.3L2049.8 599L2050.7 604.1L2051.6 594L2052.5 600.3L2053.5 587.5L2054.4 592.4L2055.3 580.9L2056.2 586.7L2057.1 575.3L2058 582.5L2059.4 572L2060.7 578.3L2062.1 566.4L2063.4 570.4L2064.8 559.1L2066.1 564.2L2067.5 553.4L2068 565.4L2068.6 560.4L2069.1 572.1L2069.6 568.1L2070.2 578.5L2070.7 573.5L2071.2 585.1L2071.8 579.1L2072.3 588.9L2072.9 584.5L2073.4 596.1L2073.9 591.6L2074.5 601.1L2075 597.2L2075.8 608.5L2076.6 602.5L2077.3 612.7L2078.1 608.3L2078.9 618.3L2079.7 614L2080.5 625.8L2081.2 619.8L2082 630.6L2082.8 624.7L2083.6 635.1L2084.4 629.6L2085.2 641.2L2085.9 636.2L2086.7 646.5L2087.5 642.1L2088.3 652.4L2089.1 647.4L2089.8 658.4L2090.6 653.7L2091.4 664.4L2092.5 659.9L2093.6 671.5L2094.7 665L2095.8 675.8L2096.8 670.3L2097.9 681L2099 676L2100.1 686.3L2101.2 681.7L2102.3 691.5L2103.4 687L2104.4 697.9L2105.5 691.7L2106.6 702.3L2107.7 696.9L2108.8 708.7L2109.9 704.7L2111 716.4L2112.1 711.5L2113.2 721.2L2114.2 716.2L2115.3 728.2L2116.4 721.8L2117.5 732.6L2118.4 725.8L2119.3 737.9L2120.1 734.1L2121 746.1L2121.9 741.7L2122.8 753.3L2123.7 747.2L2124.5 758.9L2125.4 753.5L2126.3 764.8L2127.2 758.5L2128.1 769.8L2128.9 764.2L2129.8 773.8L2130.7 768.8L2131.6 780.4L2132.4 773.9L2133.3 785.6L2134.2 779.8L2135.1 789.8L2136 783.9L2136.8 794.4L2137.7 787.7L2138.6 799.5L2139.7 794L2140.7 805.2L2141.8 800.4L2142.9 811.3L2143.9 804.9L2145 817.8L2146.1 812.6L2147.1 822.3L2148.2 817.4L2149.3 830L2150.3 824.4L2151.4 835L2152.7 829.6L2154 841.3L2155.4 836.9L2156.7 847.5L2158 841L2159.3 852.5L2160.7 847.5L2162 859L2163.3 852.6L2164.6 861.9L2166 857.3L2167.3 869.1L2168.6 863.4L2170.4 874.5L2172.3 869.6L2174.1 880.1L2176 873.5L2177.8 883.6L2179.6 876.5L2181.5 886.2L2183.3 880.3L2185.2 891.1L2187 885.1L2190.2 889.2L2193.5 890L2193.5 886.7L2193.5 883.3L2193.5 880"/>
<path stroke="#00f" d="M336 1495.2L339 1495L342 1494.8L345 1494.6L348.1 1494.4L351.1 1494.2L354.1 1494L357.1 1493.8L360.1 1493.6L363.1 1493.4L366.1 1493.2L369.2 1493L372.2 1492.8L375.2 1492.6L378.2 1492.4L381.2 1492.2L384.2 1492L387.2 1491.8L390.2 1491.7L393.3 1491.5L396.3 1491.3L399.3 1491.1L402.3 1490.9L405.3 1490.7L408.3 1490.5L411.3 1490.3L414.4 1490.1L417.4 1489.9L420.4 1489.7L423.4 1489.5L426.4 1489.3L429.4 1489.1L432.4 1488.9L435.5 1488.7L438.5 1488.5L441.5 1488.3L444.5 1488.1L447.5 1487.9L450.5 1487.7L453.5 1487.5L456.6 1487.3L459.6 1487.1L462.6 1486.9L465.6 1486.7L468.6 1486.5L471.6 1486.3L474.6 1486.1L477.7 1485.9L480.7 1485.7L483.7 1485.5L486.7 1485.3L489.7 1485.1L492.7 1484.9L495.7 1484.7L498.8 1484.5L501.8 1484.4L504.8 1484.2L507.8 1484L510.8 1483.8L513.8 1483.6L516.8 1483.4L519.8 1483.2L522.9 1483L525.9 1482.8L528.9 1482.6L531.9 1482.4L534.9 1482.2L537.9 1482L540.9 1481.8L544 1481.6L547 1481.4L550 1481.2L553 1481L556 1480.7L559 1480.4L562 1480.2L565 1479.9L568 1479.6L571 1479.3L574 1479.1L577 1478.8L580 1478.5L583 1478.2L586 1478L589 1477.7L592 1477.4L595 1477.1L598 1476.9L601 1476.5L604 1476.3L607 1475.7L610 1475.9L613 1474.9L616 1475.4L619 1474.2L622 1474.7L625 1473.5L628 1474.6L631 1473.3L634 1474.5L637 1472.3L640 1473.9L642.9 1471.2L645.7 1473.2L648.6 1470.2L651.4 1472.6L654.3 1469.5L657.1 1471.1L660 1467.6L662.9 1469.2L665.7 1465.8L668.6 1468.1L671.4 1465L674.3 1467.4L677.1 1464L680 1467.3L683 1463.6L685.9 1467.7L688.9 1462.8L691.9 1467L694.8 1461.8L697.8 1465.2L700.7 1460.2L703.7 1464.1L706.7 1458.3L709.6 1462L712.6 1456.3L715.3 1461.3L718 1456.5L720.6 1460.1L723.3 1453.9L726 1458.7L729.1 1453.5L732.2 1456.8L735.3 1452.4L738.4 1457.5L741.5 1452.8L744.6 1457L747.7 1452L750.8 1455.7L753.9 1452L757 1456.5L760.2 1451.7L763.4 1456.7L766.6 1451.8L769.8 1455.4L773 1449.9L776.2 1454.4L779.4 1449.9L782.5 1455.4L785.6 1450.9L788.7 1455L791.8 1450.9L794.9 1454.9L798 1450.2L800.8 1453.6L803.6 1448.7L806.4 1452.6L809.2 1447.5L812 1451.2L814.8 1446.7L817.6 1450.4L820.5 1445.6L823.3 1448.8L826.1 1442.9L828.9 1447.4L831.7 1442.8L834.5 1446.4L837.4 1442.1L840.2 1446.4L843 1442L846.1 1446.1L849.1 1441L852.2 1446.1L855.3 1440.8L858.4 1445.1L861.4 1439.9L864.5 1444.6L867.6 1439.3L870.6 1443.8L873.7 1439.2L876.6 1444.5L879.5 1440.1L882.4 1445L885.3 1439.6L888.2 1444.9L891.1 1439.5L894 1444.9L896.9 1439.6L899.8 1444.4L902.7 1439L905.6 1442.9L908.5 1438.6L911.4 1443.7L914.3 1439L917.3 1443.7L920.2 1439L923.2 1444.1L926.1 1439.1L929.1 1444.6L932 1440.7L935.1 1446.7L938.3 1442.9L941.4 1447.6L944.6 1443L947.7 1448.9L950.9 1444.1L954 1448.4L956.9 1445L959.8 1448.7L962.7 1443.7L965.6 1449.7L968.4 1444.7L971.3 1449.5L974.2 1444.8L977.1 1450.4L980 1446.8L982.9 1452L985.7 1447.9L988.5 1453.3L991.4 1448.2L994.3 1451.3L997.1 1446L1000 1449.4L1002.9 1444.1L1005.7 1449L1008.6 1443.1L1011.3 1445.2L1014.1 1438.5L1016.8 1442L1019.6 1436L1022.3 1440L1025 1433.7L1027.8 1437.9L1030.5 1432.1L1033.3 1436.2L1036 1429.6L1039 1434.1L1042 1427.2L1045 1430.7L1048 1425.5L1051 1428.1L1054 1423.1L1057 1426.4L1060 1419.6L1062.7 1424.2L1065.5 1419.4L1068.2 1423.1L1071 1416.5L1073.7 1420.9L1076.7 1416.8L1079.7 1421L1082.7 1416.8L1085.7 1422.3L1088.6 1417.6L1091.4 1422.8L1094.3 1418.7L1097.1 1423.2L1100 1419.1L1102.8 1423.2L1105.7 1418.4L1108.5 1424L1111.4 1420L1114.3 1425.6L1117.1 1421.8L1120 1427.6L1122.9 1422.2L1125.7 1427.2L1128.6 1422.8L1131.5 1428.1L1134.3 1423.8L1137.2 1428.8L1140 1424.5L1142.9 1430L1145.7 1425L1148.6 1430.5L1151.4 1426.4L1154.3 1431.4L1157.2 1428L1160 1431.6L1162.9 1427.2L1165.7 1432.7L1168.6 1429.4L1171.4 1433.9L1174.3 1429.9L1177.1 1433.9L1180 1430.2L1182.7 1433.7L1185.5 1428.9L1188.2 1434.1L1191 1428.5L1193.7 1433.6L1196.2 1428.2L1198.8 1430.6L1201.3 1424.9L1203.9 1427L1206.5 1420.9L1209 1424.7L1211.1 1416.8L1213.2 1420.6L1215.2 1414.4L1217.3 1416.9L1219.4 1410.3L1221.5 1412.8L1223.6 1407.1L1225.7 1410.2L1227.8 1403.4L1229.8 1405.6L1231.9 1398.5L1234 1400.7L1235.9 1393.3L1237.9 1395.2L1239.8 1388.5L1241.8 1390.7L1243.7 1384.8L1245.7 1386.7L1247.6 1379.3L1249.6 1381.7L1251.5 1374.8L1253.4 1378.3L1255.4 1371.3L1257.3 1374.1L1259.2 1368.1L1261.2 1369.4L1263.1 1363.7L1265.1 1366.7L1267 1360.8L1269.2 1363.7L1271.5 1357.8L1273.8 1359L1276 1351.4L1278.7 1356L1281.4 1352.5L1284.2 1358.8L1286.9 1356.3L1289.6 1362.5L1292.3 1358.9L1295 1365L1297.7 1359.9L1300.4 1364.7L1303.2 1361.6L1305.9 1367.8L1308.6 1365.1L1311.5 1371.5L1314.3 1366.8L1317.2 1372L1320 1369L1322.9 1375L1325.7 1371.6L1328.6 1377.8L1331.4 1374.6L1334.3 1380.4L1337.2 1377.1L1340 1381.7L1342.9 1377.7L1345.7 1382.2L1348.6 1378.2L1351.4 1384.4L1354.3 1380.2L1357.1 1386.5L1360 1382.9L1362.8 1387.9L1365.7 1384.6L1368.5 1390.3L1371.3 1385.3L1374.2 1391L1377 1386.9L1379.5 1392.1L1382 1388.4L1384.5 1395.6L1387 1391.4L1389.5 1397.7L1392 1394.5L1393.1 1396.9L1394.2 1389.7L1395.3 1392.4L1396.4 1383.8L1397.5 1385.3L1398.5 1378.1L1399.6 1380.7L1400.7 1373.5L1401.8 1374.6L1402.9 1367L1404 1369.1L1405.1 1360.8L1406.2 1363L1407.3 1356.6L1408.4 1358L1409.5 1351.4L1410.5 1352.5L1411.6 1345.3L1412.7 1347.7L1413.8 1339L1414.9 1341.5L1416 1334.8L1417.1 1335.9L1418.2 1328.9L1419.3 1330.6L1420.4 1323.6L1421.5 1324L1422.5 1316.3L1423.6 1318.3L1424.7 1310.8L1425.8 1312.2L1426.9 1304.9L1428 1307.1L1429.1 1300.2L1430.2 1301.8L1431.3 1293.5L1432.4 1296.1L1433.5 1287.7L1434.5 1289.9L1435.6 1282.3L1436.7 1283.9L1437.8 1276L1438.9 1278.8L1440 1271.1L1440.8 1273.7L1441.6 1265.6L1442.4 1267.1L1443.2 1259.9L1444.1 1262L1444.9 1254.9L1445.7 1256.6L1446.5 1247.7L1447.3 1250.5L1448.1 1242.9L1448.9 1244.6L1449.8 1237L1450.6 1238.7L1451.4 1231.5L1452.2 1232.7L1453 1225.8L1454.2 1227.9L1455.3 1220.5L1456.5 1222L1457.6 1214.9L1458.8 1215.9L1459.9 1209.1L1461 1210.4L1462.2 1202.8L1463.3 1204.5L1464.5 1198L1465.7 1199.4L1466.8 1190.9L1468 1192.9L1469.1 1184.8L1470.2 1186.6L1471.4 1179L1472.5 1180.9L1473.7 1173.9L1474.8 1175.4L1476 1167.3L1477.7 1175L1479.4 1173.8L1481.1 1180.6L1482.8 1178.1L1484.6 1184.7L1486.3 1183.5L1488 1190.2L1489.7 1187.8L1491.4 1194.8L1493.6 1193.1L1495.7 1199.7L1497.9 1197.6L1500.1 1205.5L1502.3 1202.3L1504.4 1208.6L1506.6 1205L1508.8 1212.8L1510.9 1210.8L1513.1 1218L1515.3 1215.5L1517.5 1222.6L1519.6 1220L1521.8 1226L1524 1223.5L1526.1 1230.2L1528.3 1226.5L1530.5 1234.3L1532.7 1232.4L1534.8 1238.8L1537 1236.2L1539.5 1242.7L1541.9 1238.2L1544.4 1244.5L1546.8 1241.6L1549.3 1248.3L1551.7 1245.1L1554.2 1251.4L1556.7 1248.4L1559.1 1256.3L1561.6 1253.3L1564 1260.9L1566.5 1258.4L1568.9 1263.8L1571.4 1260.4L1574 1267.8L1576.6 1263.8L1579.1 1270.2L1581.7 1266.5L1584.3 1272.5L1586.8 1267.8L1589.4 1273.6L1592 1271.5L1592.7 1273.8L1593.4 1264.8L1594.1 1268.3L1594.8 1259.4L1595.4 1262.5L1596.1 1255L1596.8 1258.1L1597.5 1249.8L1598.2 1252.5L1598.9 1243.4L1599.6 1246.1L1600.2 1237.2L1600.9 1240L1601.6 1231.4L1602.3 1233.3L1603 1225L1603.7 1227.4L1604.4 1220.3L1605.1 1223.3L1605.8 1215.2L1606.4 1217.5L1607.1 1208.5L1607.8 1211.6L1608.5 1203.4L1609.2 1205.8L1609.9 1197.8L1610.6 1200.3L1611.2 1191.4L1611.9 1194.6L1612.6 1185.2L1613.3 1188.4L1614 1181.3L1614.7 1182.6L1615.4 1173.2L1616.1 1175.8L1616.8 1167.6L1617.5 1170L1618.3 1162.3L1619 1165L1619.7 1156.7L1620.4 1158.6L1621.1 1150.5L1621.8 1152.2L1622.5 1144.3L1623.2 1146.5L1623.9 1138.9L1624.6 1142L1625.4 1133.6L1626.1 1135.4L1626.8 1127.9L1627.5 1129.7L1628.2 1121.7L1628.9 1123.5L1629.6 1115.1L1630.3 1117.2L1631 1108.3L1631.7 1110.5L1632.5 1101.8L1633.2 1105.2L1633.9 1096.9L1634.6 1099.2L1635.3 1090.7L1636 1092.8L1636.6 1085.2L1637.3 1088.2L1637.9 1078.8L1638.6 1081.7L1639.2 1073.9L1639.9 1076.5L1640.5 1067.2L1641.2 1069.5L1641.8 1060.7L1642.5 1063.5L1643.1 1055.6L1643.7 1058.9L1644.4 1049.8L1645 1051.3L1645.7 1044.1L1646.3 1046.2L1647 1037.4L1647.6 1040L1648.3 1031.6L1648.9 1034.1L1649.5 1026L1650.2 1027.8L1650.8 1020.5L1651.5 1023.3L1652.1 1015L1652.8 1018.3L1653.4 1009.6L1654.1 1012.7L1654.7 1004L1655.4 1005.7L1656 997.6L1657 1000.6L1658.1 991.2L1659.1 993.4L1660.1 984.8L1661.2 986.8L1662.2 977.5L1663.2 979.6L1664.3 971L1665.3 974.1L1666.4 965.9L1667.4 968.2L1668.4 960.6L1669.5 962.6L1670.5 954.2L1671.5 957.5L1672.6 950.2L1673.6 953L1675.4 950.3L1677.2 958L1679 956.1L1680.8 963.6L1682.6 960.6L1684.4 968.3L1686.2 965.3L1688 973.9L1689.8 971L1691.6 979.2L1693.4 976.3L1695.2 983.8L1697 980.9L1698.9 988.7L1700.8 984.8L1702.8 992.8L1704.7 990.5L1706.6 999.1L1708.5 995.5L1710.4 1004.1L1712.3 1001.2L1714.2 1009.7L1716.2 1005.6L1718.1 1014L1720 1011.1L1721.9 1017.7L1723.8 1015.5L1725.7 1023.8L1727.6 1020L1729.5 1027.5L1731.5 1024.1L1733.4 1031L1735.3 1029.1L1737.2 1037.6L1739.1 1035.5L1741 1042.7L1742.9 1039.8L1745 1047.5L1747 1042.9L1749.1 1051.4L1751.2 1048.7L1753.3 1056.2L1755.3 1052.5L1757.4 1059.7L1759.5 1056.6L1761.6 1064L1763.6 1061.4L1765.7 1068.4L1768 1064.4L1770.2 1073.3L1772.5 1070.8L1774.7 1077.7L1777 1075.2L1779.2 1081.7L1781.5 1079.2L1783.7 1087.8L1786 1083.7L1787.9 1090.1L1789.7 1087.4L1791.6 1094.7L1792.2 1086.4L1792.7 1089.3L1793.3 1080.9L1793.8 1083L1794.4 1074.5L1794.9 1078L1795.5 1068.4L1796 1072.2L1796.6 1062.3L1797.1 1065.9L1797.7 1057L1798.2 1059.4L1798.8 1050.1L1799.3 1052.7L1799.9 1044.9L1800.4 1047.1L1801 1037.9L1801.5 1041.3L1802.1 1032.1L1802.6 1035.5L1803.2 1026.5L1803.7 1028.4L1804.3 1018.8L1804.8 1021.1L1805.4 1014.2L1805.9 1016.5L1806.5 1008.2L1807 1011.7L1807.6 1003.9L1808.1 1007.1L1808.7 997.1L1809.2 999.3L1809.6 990.3L1810.1 993.8L1810.6 985.6L1811.1 987.5L1811.5 978.2L1812 981.5L1812.5 973.4L1813 976.4L1813.4 968L1813.9 971L1814.4 961.7L1814.9 964L1815.3 954.5L1815.8 957.6L1816.3 950.3L1816.8 952.6L1817.2 943.5L1817.7 945.1L1818.2 937.1L1818.7 940.1L1819.1 931.5L1819.6 934.8L1820.1 927.3L1820.6 930.6L1821 922.6L1821.5 924.7L1822 915.8L1822.5 918.3L1822.9 909.4L1823.4 912.1L1824.1 903.2L1824.8 905.4L1825.5 896.7L1826.1 898.5L1826.8 890.6L1827.5 893.8L1828.2 885.2L1828.9 887.4L1829.6 879.7L1830.2 881.6L1830.9 873.3L1831.6 875.2L1832.3 866.9L1833 870.4L1833.7 863L1834.3 864.6L1835 856.2L1835.7 859.1L1836.4 850.8L1837.1 852.7L1837.8 844.3L1838.4 847.1L1839.1 838.7L1839.8 841.9L1840.5 832.7L1841.2 835L1841.9 826.9L1842.5 830.6L1843.2 821.4L1843.9 823.8L1844.6 814.3L1845.2 815.9L1845.7 806.9L1846.3 810L1846.9 801L1847.5 804.7L1848 797L1848.6 799.3L1849.2 790.3L1849.7 793.7L1850.3 785.4L1850.9 788.6L1851.4 779.3L1852 781.8L1852.6 773.7L1853.2 775.5L1853.7 766.3L1854.3 769.4L1854.9 760.5L1855.4 763.8L1856 755L1856.6 757.9L1857.2 749.3L1857.7 752.5L1858.3 743.9L1859.2 746.5L1860.1 738.2L1861 739.7L1861.9 731.6L1862.8 734.5L1863.7 725.5L1864.6 727.2L1865.5 719.8L1866.4 722.6L1867.3 713.3L1868.2 715.5L1869.1 707.6L1870 710.2L1870.9 702.3L1871.8 704.8L1872.7 696.9L1873.6 699.7L1874.6 696.3L1875.6 705.4L1876.7 702.3L1877.7 710L1878.7 707.3L1879.7 715.4L1880.8 713.8L1881.8 721.3L1882.8 717.8L1883.8 726.6L1884.8 723.7L1885.9 731.9L1886.9 729.7L1887.9 737.9L1888.9 736.2L1890 745.3L1891 742.8L1892 751.8L1893.6 748.6L1895.2 757.2L1896.8 753.9L1898.3 762.8L1899.9 760.1L1901.5 768.3L1903.1 765.4L1904.7 772.9L1906.2 769.6L1907.8 777.5L1909.4 773.5L1911 782.5L1912.6 778.3L1914.2 786.5L1915.8 783.8L1917.5 793.3L1919.1 789.6L1920.7 797.1L1922.3 794.1L1923.9 803.5L1925.5 801.2L1927.2 810.4L1928.8 806.9L1930.4 814.8L1932 811.2L1933.6 819.8L1935.2 817.5L1936.8 824.9L1938.5 822L1940.1 830.9L1941.7 828.4L1943.3 837.1L1944.9 834.6L1946.5 841.7L1948.2 839L1949.8 847.2L1951.4 843.3L1953 852.6L1954.8 848.9L1956.6 856L1958.5 853.6L1960.3 860.7L1962.1 858.2L1963.9 865.1L1965.7 861.4L1967.5 869L1969.4 866.5L1971.2 874.7L1973 872.5L1974.8 880.3L1976.6 876.7L1978.5 883.9L1980.3 881.6L1982.1 888.1L1983.9 884.7L1985.8 892.4L1987.6 888L1989.4 896.4L1989.9 887.4L1990.3 891L1990.8 881.9L1991.2 885.3L1991.7 877.4L1992.1 880L1992.6 871.9L1993 874.1L1993.5 865.5L1993.9 868.2L1994.4 860.3L1994.8 862.7L1995.3 854.5L1995.7 856.8L1996.2 847.2L1996.6 849.3L1997.1 840.6L1997.5 842.9L1998 835.4L1998.4 838.7L1998.9 829.4L1999.4 832.3L1999.8 823.2L2000.3 825.9L2000.8 817.9L2001.3 819.6L2001.7 812L2002.2 813.3L2002.7 805.3L2003.2 807.6L2003.6 799.4L2004.1 801.9L2004.6 793.4L2005 795.3L2005.5 787.6L2006 789.5L2006.5 780.5L2006.9 782.4L2007.4 774.2L2007.9 777.1L2008.3 770L2008.8 772.1L2009.3 763.7L2009.8 766L2010.2 757.3L2010.7 759.5L2011.2 750.3L2011.7 752.6L2012.1 744.4L2012.6 747.6L2013.5 739.2L2014.4 742.3L2015.4 735.1L2016.3 736.7L2017.2 728.6L2018.2 731.7L2019.1 723.2L2020 724.7L2020.7 716.9L2021.4 720.3L2022.1 711.1L2022.8 714.2L2023.5 705.1L2024.2 708.6L2024.9 699.5L2025.6 701.1L2026.3 693.2L2027 696.6L2027.7 687.6L2028.3 691L2029 681.7L2029.7 683.7L2030.4 674.5L2031.1 678.1L2031.8 670.1L2032.5 672.6L2033.2 663.8L2033.9 665.1L2034.6 656.5L2035.3 660L2036 650.6L2036.9 653.4L2037.7 645.1L2038.6 648.9L2039.5 640.5L2040.3 642.4L2041.2 633.8L2042.1 635.8L2042.9 628.3L2043.8 631.8L2044.7 622L2045.5 624.7L2046.4 617L2047.3 620.2L2048.1 610.2L2049 612.4L2049.8 604.4L2050.6 608L2051.4 598.8L2052.2 602.3L2053 594.4L2053.8 598L2054.5 588.8L2055.3 591.2L2056.1 581.3L2056.9 583L2057.7 573.3L2058.5 577.1L2059.5 569.2L2060.5 571.3L2061.5 563L2062.5 565L2063.5 557.1L2064.5 560.1L2065.5 551.7L2066.5 555.5L2067.5 547.4L2068.5 550.4L2069.2 546.6L2069.9 554.9L2070.6 552.5L2071.3 560.8L2072 558.1L2072.7 565.9L2073.4 562L2074.1 570.9L2074.8 568L2075.5 576.1L2076.2 574.2L2077 582.6L2077.7 579.2L2078.4 586.8L2079.1 584.1L2079.8 592.4L2080.5 588.8L2081.2 597L2081.9 596.1L2082.6 604L2083.3 602.2L2084 611.6L2084.8 609.6L2085.5 618.7L2086.2 615L2087 622.4L2087.8 620.9L2088.5 628.8L2089.2 626.2L2090 635.1L2090.8 631.8L2091.5 639L2092.2 637L2093 644.9L2093.8 643.3L2094.5 652.5L2095.2 648.8L2096 657.2L2097.2 654.6L2098.4 662L2099.5 658.6L2100.7 666.3L2101.9 662.7L2103.1 670.1L2104.3 666.7L2105.4 675.7L2106.6 674.6L2107.8 683.3L2109 681.2L2110.2 690.5L2111.3 688.7L2112.5 697.8L2113.7 693.4L2114.9 701.3L2116.1 698.2L2117.2 706.6L2118.4 704.7L2119.6 712.5L2120.8 710.4L2122 719.1L2123.1 716.9L2124.3 725.1L2125.5 722.2L2126.6 729.6L2127.8 726.5L2128.9 734.6L2130 732L2131.1 740.7L2132.2 739L2133.4 748.1L2134.5 745.1L2135.6 752.4L2136.8 748.5L2137.9 756L2139 752.6L2140.1 761.9L2141.2 760.4L2142.4 768.9L2143.5 765.8L2144.6 773.6L2145.8 770.5L2146.9 778.4L2148 776.5L2149.5 784.1L2150.9 780.8L2152.4 789.3L2153.9 784.9L2155.4 792.9L2156.8 789.9L2158.3 798.8L2159.9 795.3L2161.6 802.8L2163.2 800.1L2164.9 809.3L2166.5 806.6L2168.2 814.5L2169.8 811.6L2171.4 820.8L2173.1 817.5L2174.7 826.6L2176.4 824.4L2178 831.8L2179.4 827.8L2180.7 834.9L2182.1 832.7L2183.4 841.1L2184.8 839.2L2186.1 847.9L2187.5 846.5L2189.5 847.8L2191.5 842.8L2193.5 841L2193.5 838.5L2193.5 836"/>
<path stroke="#f0f" d="M336 1476.9L339.1 1488.7L342.1 1477.4L345.2 1488.5L348.3 1477L351.4 1489.2L354.4 1477.1L357.5 1488.8L358 1486.5L358.5 1490L361.5 1490L364.5 1490L367.5 1490L370.5 1490L373.5 1490L376.5 1490L379.5 1490L382.5 1490L385.5 1490L385.8 1486.7L386.2 1481.5L386.5 1484.7L389.5 1475.3L392.6 1484.4L395.6 1475L398.7 1484.5L401.7 1475.3L404.8 1483.9L407.8 1474.6L410.8 1484L413.9 1474.7L416.9 1483.5L420 1474.2L423 1483.3L423.7 1478L424.3 1490L425 1484.3L425.6 1490.7L426.1 1478.3L426.7 1484.3L427.3 1472.2L427.9 1478.4L428.4 1466.1L429 1473L429.8 1466.5L430.5 1478.4L431.2 1471.6L432 1483.5L435.1 1474.4L438.1 1483.8L441.2 1474.4L444.2 1483.5L447.3 1474.1L450.4 1483.6L453.4 1473.7L456.5 1483L459.5 1473.6L462.6 1483.2L465.6 1474L468.7 1482.9L471.8 1473.3L474.8 1482.6L477.9 1473.5L480.9 1482.6L484 1473.1L487 1482.8L490 1473L492.9 1482.2L495.9 1472.8L498.9 1482L501.9 1472.6L504.8 1481.5L507.8 1472.5L510.8 1481.4L513.8 1472.7L516.8 1481.3L519.7 1472L522.7 1480.9L525.7 1471.8L528.7 1481.1L531.7 1471.6L534.6 1480.9L537.6 1471.8L540.6 1480.3L543.6 1471.5L546.5 1480.6L549.5 1471.2L552.5 1480.5L555.5 1470.5L558.5 1479.7L561.4 1470.7L564.4 1479.9L567.4 1470.6L570.4 1479.4L573.3 1470.1L576.3 1479.4L579.3 1469.9L582.3 1479L585.3 1469.8L588.2 1479.1L591.2 1469.4L594.2 1478.3L597.2 1469.3L600.2 1478.2L603.1 1469.1L606.1 1478.4L609.1 1469.1L612.1 1478.1L615 1468.4L618 1477.6L621 1468.7L624 1477.4L627 1468.1L630 1477.6L633 1468.4L636 1477.4L639 1468.4L639.5 1480.1L640 1473.9L640.5 1486.5L641 1480.7L641.8 1487.3L642.6 1474.9L643.4 1482.2L644.2 1470.1L645 1476.8L647.8 1467.1L650.5 1475.7L653.2 1465.8L656 1475.1L659.1 1464.7L662.3 1474.3L665.4 1463.3L668.6 1473.5L671.7 1462.8L674.9 1472.7L678 1461.9L681.1 1472L684.3 1461.5L687.4 1472.5L690.6 1460.9L693.7 1471.7L696.6 1460.9L699.5 1471.8L702.4 1459.9L705.2 1470.3L708.1 1459.2L711 1469.5L714.1 1458.1L717.1 1469.2L720.2 1457.4L723.2 1468.6L726.3 1456.8L729.4 1467.9L732.4 1455.8L735.5 1467.6L738.6 1455.9L741.6 1466.8L744.7 1456.2L747.8 1466.5L750.9 1454.5L753.9 1466L757 1455.1L759.9 1467L762.7 1456.4L765.6 1468.5L768.5 1456L771.3 1467.6L774.2 1456.3L777.1 1467.5L779.9 1456.1L782.8 1466.7L785.7 1455.6L788.5 1466.8L791.4 1455.7L794.3 1466.7L797.3 1453.6L800.2 1464L803.2 1451.4L806.1 1461.9L809.1 1450L812 1459.9L815.1 1449L818.2 1461.4L821.3 1449.3L824.4 1459.1L827.5 1447.5L830.5 1457.5L833.6 1445.8L836.7 1456.6L839.8 1444.5L842.9 1456.1L845.8 1445L848.6 1455.8L851.5 1443.8L854.3 1454L857.1 1442.4L860 1453.4L862.8 1442.2L865.7 1453.6L868.5 1441.3L871.3 1452.5L874.2 1440.6L877 1452.9L880.1 1441L883.3 1451.6L886.4 1440.9L889.5 1451.6L892.6 1441.8L895.8 1452.8L898.9 1440.6L902 1451.5L905.1 1440.3L908.3 1453.8L911.4 1441.7L914.2 1454.7L917.1 1444.6L919.9 1455L922.8 1444.5L925.6 1456.5L928.5 1444.7L931.3 1456.8L934.2 1444.6L937 1456.2L939.9 1445.3L942.8 1456.2L945.7 1445.2L948.6 1457.3L951.4 1446.2L954.3 1458.6L957.2 1447.4L960.1 1459.6L963 1449L965.8 1461.5L968.5 1449.6L971.2 1461.7L974 1449.5L977.2 1461.3L980.4 1449.2L983.6 1461.6L986.8 1450.4L990 1462.1L992.7 1450.3L995.3 1460.4L998 1446.9L1000.6 1459.7L1003.3 1446.6L1005.9 1457.8L1008.6 1444.8L1011.2 1453.8L1013.7 1439.7L1016.3 1449L1018.9 1436.3L1021.4 1447.1L1024 1433.3L1026.8 1445.5L1029.5 1433.5L1032.2 1445.3L1035 1433L1037.8 1443.9L1040.5 1430.7L1043.2 1441.7L1046 1429.4L1048.7 1440.3L1051.3 1428.6L1054 1439.6L1056.7 1427.3L1059.3 1438.6L1062 1427.1L1064.6 1436.7L1067.2 1422.1L1069.8 1431.1L1072.4 1417.3L1075 1426.6L1078 1415.2L1081 1426L1084 1414.2L1087 1427.5L1090 1416.8L1093 1430.1L1096 1419.3L1099 1432.3L1102 1420.9L1105 1434.1L1107.6 1422L1110.2 1434.8L1112.8 1424.8L1115.4 1438.4L1118 1426.9L1121 1438.3L1124 1427.2L1127 1439.1L1130 1426L1133 1437.8L1136 1424.7L1139 1436.8L1142 1426.2L1145 1438.1L1147.5 1428.6L1150 1440.7L1152.5 1428.6L1155 1440.9L1157.5 1429.4L1160 1441.5L1163.1 1430.9L1166.3 1444L1169.4 1434L1172.6 1446.3L1175.7 1435.2L1178.9 1447.7L1182 1434.3L1184.9 1444.9L1187.7 1432.7L1190.6 1444.7L1193.4 1434L1196.3 1445.4L1199.1 1433.4L1202 1443.7L1204.1 1428.4L1206.2 1438.1L1208.3 1423.7L1210.4 1433.1L1212.5 1419.9L1214.5 1428.4L1216.4 1412.7L1218.4 1424.3L1220.3 1410.3L1222.3 1421.6L1224.2 1406.9L1226.2 1417L1228.1 1401.3L1230.1 1412L1232 1398.6L1234 1410.8L1235.9 1396.7L1237.9 1407.6L1239.8 1392.5L1241.8 1401.7L1243.7 1386.9L1245.7 1395.4L1247.6 1380.1L1249.6 1391.3L1251.5 1376.5L1253.5 1385.3L1255.5 1371.4L1257.5 1381.7L1259.5 1367.5L1261.5 1378.3L1263.5 1364.6L1265.5 1376.3L1267.5 1361.2L1270.1 1371.8L1272.8 1356.5L1275.4 1368.5L1278 1355.1L1280.8 1368.1L1283.6 1358L1286.4 1369.3L1289.2 1358.3L1292 1371.6L1294.4 1359.3L1296.7 1371.9L1299.1 1358.8L1301.5 1374.2L1303.9 1365.5L1306.2 1381.4L1308.6 1370.1L1311.4 1384.6L1314.3 1372.1L1317.2 1387.2L1320 1376.3L1322.8 1389.1L1325.7 1375.4L1328.6 1390.9L1331.4 1380.4L1334.3 1395.3L1337.1 1384.1L1340 1398L1342.8 1384.4L1345.7 1398.9L1348.6 1385.3L1351.4 1396.5L1354.3 1385.2L1357.1 1399.2L1360 1387.1L1362.8 1402.6L1365.7 1388.2L1368.5 1403.1L1371.3 1390.4L1374.2 1405.1L1377 1392L1379.8 1404.8L1382.6 1392.6L1385.4 1408.6L1388.2 1396.1L1391 1411.4L1392 1393.1L1392.9 1403L1393.9 1386.7L1394.9 1395.3L1395.9 1381.3L1396.8 1393.3L1397.8 1376.9L1398.8 1389.6L1399.7 1372.6L1400.7 1383.1L1401.7 1366.2L1402.7 1375.3L1403.6 1358.4L1404.6 1371.4L1405.6 1354.4L1406.5 1364.3L1407.5 1347.2L1408.5 1360.6L1409.5 1344L1410.4 1357L1411.4 1339.8L1412.4 1351.5L1413.3 1333.3L1414.3 1345L1415.3 1326.8L1416.2 1336.3L1417.2 1319.6L1418.2 1330.1L1419.2 1315.7L1420.1 1324.8L1421.1 1308.6L1422.1 1317.6L1423 1302L1424 1312.7L1425 1296.4L1426 1305.3L1426.9 1287.2L1427.9 1298.2L1428.9 1280.2L1429.8 1291L1430.8 1273.4L1431.8 1284.2L1432.8 1266.2L1433.7 1276.9L1434.7 1259.2L1435.5 1272.3L1436.2 1253.2L1437 1264.5L1437.8 1250.2L1438.5 1264.1L1439.3 1246.5L1440 1257.6L1440.8 1239L1441.6 1249L1442.3 1233.5L1443.1 1246.7L1443.9 1230.4L1444.6 1241.8L1445.4 1225.8L1446.1 1237.2L1446.9 1220.9L1448.1 1232.7L1449.3 1217.5L1450.5 1227.1L1451.7 1209.2L1452.8 1220.8L1454 1205.4L1455.2 1218L1456.4 1202.9L1457.6 1212.2L1458.8 1196.7L1460 1206.9L1461.2 1189.1L1462.3 1201.7L1463.5 1185.5L1464.7 1198.8L1465.9 1182.9L1467.1 1191.8L1468.3 1173.2L1469.5 1185.2L1470.7 1167.4L1471.8 1181.3L1473 1164L1474.2 1177.5L1475.4 1160.6L1477.2 1174.4L1479 1161.4L1480.7 1178L1482.5 1165.4L1484.3 1182.4L1486.1 1171.2L1487.8 1187.6L1489.6 1175.2L1491.4 1191.7L1493.3 1181.8L1495.2 1199.6L1497.1 1185L1499 1202.2L1500.9 1191.8L1502.8 1206.7L1504.8 1196L1506.7 1211.6L1508.6 1198.4L1510.5 1215L1512.4 1201.6L1514.3 1219L1516.6 1206.7L1518.8 1223.6L1521.1 1209.6L1523.4 1225.8L1525.7 1212.5L1527.9 1231.8L1530.2 1218.2L1532.5 1235.4L1534.7 1223.2L1537 1239.9L1539.9 1226.8L1542.8 1243.8L1545.6 1228.2L1548.5 1244.5L1551.4 1232.2L1554.2 1249L1557.1 1233.7L1560 1250.2L1562.9 1237L1565.7 1254.1L1568.6 1242.3L1571.5 1260.5L1574.3 1247.5L1577.2 1262.7L1580 1249.3L1582.9 1264.1L1585.2 1253.2L1587.5 1268.9L1589.7 1256.6L1592 1275.5L1592.5 1255.7L1593 1268.2L1593.4 1249.2L1593.9 1259.4L1594.4 1238.6L1594.9 1252.9L1595.4 1233.7L1595.9 1245.6L1596.3 1227.5L1596.8 1240L1597.3 1222.9L1597.8 1236.3L1598.3 1217.7L1598.7 1231.4L1599.2 1210.7L1599.7 1223.6L1600.2 1204.2L1600.7 1215.8L1601.1 1196.3L1601.6 1208.8L1602.1 1191.8L1602.6 1207L1603.1 1187.9L1603.6 1200.3L1604 1182.9L1604.5 1193.9L1605 1175.8L1605.7 1188.1L1606.4 1171L1607.1 1183L1607.7 1163.1L1608.4 1176.3L1609.1 1158.4L1609.8 1170.2L1610.5 1153.6L1611.2 1164.2L1611.9 1144.9L1612.6 1155.9L1613.2 1136.7L1613.9 1152.4L1614.6 1135.4L1615.3 1148.7L1616 1130.1L1616.7 1142.8L1617.4 1123.1L1618.1 1135.5L1618.7 1116.8L1619.4 1130.9L1620.1 1112.3L1620.8 1124.1L1621.5 1106.9L1622.2 1117.8L1622.9 1098.4L1623.6 1110.9L1624.2 1093.6L1624.9 1107L1625.6 1085.6L1626.3 1097.4L1626.9 1077.5L1627.5 1089.3L1628.1 1072.2L1628.7 1086.2L1629.3 1066.9L1629.9 1081.7L1630.5 1064.9L1631.1 1075.2L1631.7 1058.7L1632.3 1071.6L1632.9 1053.6L1633.5 1065.3L1634.1 1047.2L1634.7 1057.9L1635.3 1039L1636 1052.9L1636.6 1032.8L1637.2 1045.1L1637.8 1028.1L1638.4 1042.4L1639 1023.6L1639.6 1035.3L1640.2 1014.9L1640.8 1027.4L1641.4 1006.4L1642 1020.6L1642.6 1003.9L1643.2 1014.5L1643.8 995.9L1644.4 1011.6L1645 992.3L1645.5 1007L1646 987.9L1646.5 999.3L1646.9 979.7L1647.4 995.1L1647.9 976L1648.4 987.9L1648.9 969.7L1649.4 984.9L1649.8 963.3L1650.3 974.6L1650.8 956.1L1651.3 970.2L1651.8 951.4L1652.3 963.3L1652.7 944.1L1653.2 958.6L1653.7 939.6L1654.2 952.7L1654.7 932.8L1655.2 947.9L1655.6 926.7L1656.1 938.7L1656.6 921.7L1657.1 935.5L1657.6 915.3L1658.1 927.6L1658.5 906.2L1659 921.9L1659.5 904.2L1660 917.9L1660.6 899L1661.3 911L1661.9 892.5L1662.6 905.5L1663.2 885.5L1663.9 900.7L1664.5 882L1665.2 897.1L1665.8 874.5L1666.5 886.6L1667.1 865.5L1667.8 880.8L1668.4 860.9L1669.1 873.6L1669.7 854.9L1670.4 870.1L1671 849.1L1672.6 866.8L1674.2 855.3L1675.8 873.1L1677.3 858.8L1678.9 881.2L1680.5 864.9L1682.1 886.6L1683.7 871.3L1685.2 891.8L1686.8 875L1688.4 893.4L1690 878.1L1691.7 898.1L1693.3 884L1695 902L1696.6 886.2L1698.3 908.3L1699.9 895.6L1701.6 916.5L1703.2 902.4L1704.9 920.5L1706.5 905.8L1708.2 926.8L1709.8 910.2L1711.5 930.9L1713.1 916.1L1714.7 934.9L1716.2 921.9L1717.8 943L1719.4 925.6L1721 946.7L1722.5 933.7L1724.1 953.7L1725.7 937.7L1727.2 957.9L1728.8 946.2L1730.4 962.8L1732 947.6L1733.5 968L1735.1 955L1736.7 976.2L1738.3 960.2L1739.8 977.9L1741.4 962.9L1743 982.9L1745 968.2L1747 984.9L1749 969.7L1751 990.1L1753 975L1755 992.1L1757 977.2L1759 999.3L1761 986.8L1763 1007.6L1765 990.7L1767.2 1012.9L1769.4 998.3L1771.6 1016.4L1773.8 999.5L1776 1019.1L1778.2 1006.5L1780.4 1025.8L1782.6 1010.7L1784.8 1027.4L1787 1013.3L1789 1033.7L1790.9 1016.6L1791.4 1030.1L1791.8 1011L1792.3 1026.9L1792.8 1005.3L1793.3 1020.6L1793.7 999.3L1794.2 1013.5L1794.7 991.7L1795.1 1007.4L1795.6 985.4L1796.1 1000L1796.6 979.5L1797 994.6L1797.5 974.8L1798 989L1798.5 967.3L1798.9 982.6L1799.4 964.2L1799.9 979.8L1800.3 957.3L1800.8 973.3L1801.3 952.2L1801.8 967.9L1802.2 947.2L1802.7 961.8L1803.1 941.9L1803.6 958.2L1804 937.2L1804.5 949.7L1804.9 931.2L1805.4 944.5L1805.8 923.3L1806.3 938.6L1806.7 918.6L1807.2 931.4L1807.6 911.4L1808 927.4L1808.5 905L1808.9 920.6L1809.4 900.3L1809.8 914.6L1810.3 894.4L1810.7 907.1L1811.2 889.6L1811.6 903.3L1812 879.9L1812.5 893.3L1812.9 872L1813.4 888.1L1813.8 870.3L1814.3 884L1814.7 862.5L1815.2 879.7L1815.6 859.9L1816.1 873.6L1816.5 852.8L1817 866.8L1817.5 848.6L1818 861.8L1818.5 840.8L1819 853.3L1819.5 833.2L1820 850.5L1820.5 827L1821 844.3L1821.5 825.9L1822 839.2L1822.5 820.1L1823 836.7L1823.5 814.8L1824 827.1L1824.5 805.4L1825 821.1L1825.5 800.5L1826 817.5L1826.5 798L1827 812.4L1827.5 788.7L1828 804.1L1828.5 781.5L1829 796.2L1829.5 774.2L1830 791.6L1830.5 770.7L1831 783.5L1831.5 765L1832 777.5L1832.6 759.1L1833.2 772.2L1833.8 750.1L1834.4 768.1L1835 747.7L1835.6 762.7L1836.2 741.2L1836.8 755.6L1837.4 734.6L1838 749.3L1838.6 728.7L1839.2 744.4L1839.7 724.8L1840.3 740L1840.9 719.3L1841.5 735.2L1842.1 712.3L1842.7 727L1843.3 707.1L1843.9 721.4L1844.5 699.9L1845.1 715.2L1845.7 692.3L1846.3 706.2L1846.9 685.5L1847.4 703.3L1848 683.8L1848.5 700.6L1849.1 677L1849.6 695.4L1850.2 672.2L1850.7 688L1851.3 664.8L1851.8 679.4L1852.4 656.9L1852.9 671.5L1853.5 653.4L1854 667.1L1854.6 648.2L1855.1 664.7L1855.7 641.4L1856.2 655.7L1856.8 635.3L1857.3 651.6L1857.9 629.1L1858.4 642.4L1859 621.8L1859.5 636.6L1860.1 617L1860.6 632.4L1861.2 609.4L1861.7 626.5L1862.3 605L1862.8 620.5L1863.4 596.4L1864.2 613.3L1865.1 593.4L1865.9 610L1866.7 590.3L1867.6 603.9L1868.4 583.5L1869.3 600.2L1870.1 578L1870.9 593.1L1871.8 571.9L1872.6 588.9L1873.5 574.2L1874.3 596.7L1875.2 582.1L1876 603.1L1876.9 586.8L1877.7 606.1L1878.6 590.1L1879.5 609.6L1880.3 593.7L1881.2 616.7L1882 601.3L1882.9 621L1883.7 603.2L1884.6 626.3L1885.4 611.2L1886.3 636.6L1887.2 620.5L1888 644.5L1888.9 625.9L1889.7 650.8L1890.6 634L1891.4 654.6L1892.3 634.8L1893.7 659.1L1895 640.3L1896.4 661.6L1897.7 639.9L1899.1 665.7L1900.4 647.2L1901.8 672L1903.2 652L1904.5 675.8L1905.9 654L1907.2 678.3L1908.6 659.9L1909.9 682.9L1911.3 663.7L1912.6 691.3L1914 669.4L1915.2 694.4L1916.5 675.5L1917.8 700.4L1919 682L1920.2 704.3L1921.5 684.3L1922.8 711L1924 692.6L1925.2 717.6L1926.5 697.6L1927.8 722.8L1929 701L1930.2 725.4L1931.5 707.7L1932.8 733.3L1934 713.3L1935.3 737.6L1936.6 716.9L1938 743.9L1939.3 726.3L1940.6 752.4L1941.9 735.5L1943.2 761.1L1944.6 742.2L1945.9 766.3L1947.2 747.9L1948.5 770.5L1949.9 752.4L1951.2 778L1952.5 758.4L1954.3 784L1956.2 762.7L1958 783.7L1959.9 763.4L1961.8 787.5L1963.6 767.2L1965.5 792.1L1967.3 772.1L1969.2 795.4L1971 775.3L1972.9 800.1L1974.9 781.4L1976.8 806.8L1978.8 785.9L1980.7 810.9L1982.7 788.4L1984.6 815.6L1986.6 794.3L1988.5 819.1L1988.9 794.7L1989.4 815.6L1989.8 788.9L1990.3 806.5L1990.7 781.4L1991.2 800L1991.6 777.6L1992.1 796.2L1992.5 770.4L1993 785.4L1993.4 760.9L1993.9 780.4L1994.3 758.6L1994.8 773.5L1995.2 749.6L1995.7 764.3L1996.1 745.8L1996.6 760.1L1997 738.8L1997.4 757.2L1997.8 734.3L1998.2 748.3L1998.7 726.7L1999.1 741.2L1999.5 718.6L1999.9 733.3L2000.3 712.1L2000.8 729.4L2001.2 707.5L2001.6 720.6L2002 702.8L2002.4 720L2002.7 700.6L2003.1 717.4L2003.4 694.5L2003.8 711.5L2004.1 688.1L2004.5 702.6L2004.8 682L2005.2 697.5L2005.6 675.9L2005.9 690.5L2006.3 671.1L2006.6 686.4L2007 665.3L2007.3 682.6L2007.7 660.1L2008 675.4L2008.4 654L2008.9 668.3L2009.5 647.1L2010 663.4L2010.6 639.6L2011.1 656L2011.6 635.5L2012.2 650.5L2012.7 630.3L2013.3 644L2013.8 624L2014.4 641.1L2014.9 617.5L2015.4 630.9L2016 608.4L2016.5 624.6L2017.1 601.5L2017.6 618.3L2018.4 595.8L2019.2 612L2020 591.1L2020.8 608.1L2021.5 586.1L2022.3 600.6L2023.1 581.5L2023.9 596.8L2024.7 574.3L2025.5 590.9L2026.3 571.1L2027.1 588.5L2027.8 566.5L2028.6 580.4L2029.4 560.4L2030.2 577L2031 556.3L2031.6 568.4L2032.1 545.9L2032.7 560.5L2033.2 539.2L2033.8 557.8L2034.4 534.5L2034.9 549L2035.5 528.1L2036 544L2036.6 524L2037.2 537.4L2037.7 517.9L2038.3 532.1L2038.8 512.1L2039.4 525.8L2040.1 502.2L2040.9 521L2041.6 501.6L2042.3 515.3L2043 493.8L2043.8 511.7L2044.5 487.9L2045.2 504.9L2045.9 482.3L2046.7 500.2L2047.4 478L2048.1 496.3L2048.8 473.3L2049.6 488.4L2050.3 465.7L2051 482.8L2052.5 461.4L2054 476L2055.4 454.5L2056.9 470.4L2058.4 448.1L2059.9 463.4L2061.4 442.5L2062.9 459.7L2064.4 439.9L2065.8 453L2067.3 431.3L2068.8 447.2L2069.4 430.4L2070 453.6L2070.6 436.1L2071.1 459.3L2071.7 441.8L2072.3 461.9L2072.9 445.6L2073.5 469.5L2074.1 455.7L2074.6 475.4L2075.2 459.4L2075.8 481L2076.4 465.4L2077 487.7L2077.6 469.4L2078.2 494.3L2078.7 479L2079.3 502.9L2079.9 485.5L2080.5 505.8L2081.1 491.1L2081.7 511.2L2082.2 494.3L2082.8 516.4L2083.4 498.2L2084 521.8L2084.7 506.4L2085.4 530.8L2086.1 512.2L2086.8 533.9L2087.5 515L2088.2 541.3L2088.9 526.3L2089.6 549.1L2090.3 533.3L2091 558.5L2091.7 538.6L2092.4 560.4L2093.1 543.8L2093.8 566.6L2094.5 550.6L2095.2 575.7L2095.9 555.1L2096.6 580L2097.3 560.4L2098 584.6L2098.7 565.6L2099.4 591.8L2100.1 571.8L2100.8 596.1L2101.5 577.8L2102.2 605.8L2102.9 584.6L2103.6 611.9L2104.3 591L2105 616.5L2105.7 598.2L2106.7 624.8L2107.6 604.3L2108.6 628.8L2109.5 607.7L2110.5 630.1L2111.5 613.1L2112.4 636.9L2113.4 617.4L2114.3 644L2115.3 622.4L2116.3 649.3L2117.2 631L2118.2 656.5L2119.2 639L2120.1 663.6L2121.1 644.2L2122 667L2123 646L2124 670L2125 650.5L2126 675.5L2127 656.9L2128 681.2L2129 663.2L2130.6 688.1L2132.1 671L2133.7 696.2L2135.3 675.9L2136.9 698.9L2138.4 678.6L2140 704.4L2141.4 686.1L2142.9 713.2L2144.3 691.2L2145.8 718.2L2147.2 699.1L2148.7 723.2L2150.1 700.5L2151.6 722.9L2153 703L2154.4 728.7L2155.8 708.7L2157.2 731.4L2158.6 715.6L2160 738.4L2161.4 721.1L2162.9 742.9L2164.3 724.2L2165.7 752.9L2167.1 732.5L2168.6 755.6L2170 734.1L2171.4 757.7L2172.9 738.9L2174.3 766.4L2175.7 749.2L2177.1 775.7L2178.6 757.1L2180 780L2181.4 759.8L2182.8 783.6L2184.2 764L2185.6 788.5L2187 771.1L2189.2 788.1L2191.5 783L2193.7 785L2193.7 781.9L2193.7 778.8L2193.7 775.8L2193.7 772.7L2193.7 769.6L2193.7 766.5L2193.7 763.5L2193.7 760.4L2193.7 757.3L2193.7 754.2L2193.7 751.2L2193.7 748.1L2193.7 745"/>
</g>
<g class="c"><path stroke="#000" d="M590.2 251.3H769.5"/><path stroke="#f00" d="M590.2 350.5H769.5"/><path stroke="#00f" d="M590.2 449.7H769.5"/><path stroke="#f0f" d="M590.2 548.9H769.5"/></g>
<g class="s" font-size="81" text-rendering="geometricPrecision"><text transform="translate(789.3 279.5) scale(1 1.035)">Sensor-1</text><text transform="translate(789.3 378.7) scale(1 1.035)">Sensor-2</text><text transform="translate(789.3 477.9) scale(1 1.035)">Sensor-3</text><text transform="translate(789.3 577.1) scale(1 1.035)">Sensor-4</text></g>
<g class="s" font-size="66.5" text-anchor="end"><text transform="translate(291.6 120.0) scale(1 1.045)">80</text><text transform="translate(291.6 291.8) scale(1 1.045)">70</text><text transform="translate(291.6 463.6) scale(1 1.045)">60</text><text transform="translate(291.6 635.3) scale(1 1.045)">50</text><text transform="translate(291.6 807.1) scale(1 1.045)">40</text><text transform="translate(291.6 978.9) scale(1 1.045)">30</text><text transform="translate(291.6 1150.7) scale(1 1.045)">20</text><text transform="translate(291.6 1322.4) scale(1 1.045)">10</text><text transform="translate(291.6 1494.2) scale(1 1.045)">0</text><text transform="translate(291.6 1666.0) scale(1 1.045)">-10</text></g>
<g class="s" font-size="66.5" text-anchor="middle"><text transform="translate(346.5 1748.8) scale(1 1.045)">00:00</text><text transform="translate(705.4 1748.8) scale(1 1.045)">01:30</text><text transform="translate(1064.3 1748.8) scale(1 1.045)">03:00</text><text transform="translate(1423.2 1748.8) scale(1 1.045)">04:30</text><text transform="translate(1782.1 1748.8) scale(1 1.045)">06:00</text><text transform="translate(2141.0 1748.8) scale(1 1.045)">07:30</text></g>
<text class="s" font-size="81" x="1160.3" y="1874.9">Time (h)</text>
<text class="a" font-size="80.8" transform="translate(112.9 1246.5) rotate(-90)">Relative resistance (%)</text>
</svg>
</body></html>
